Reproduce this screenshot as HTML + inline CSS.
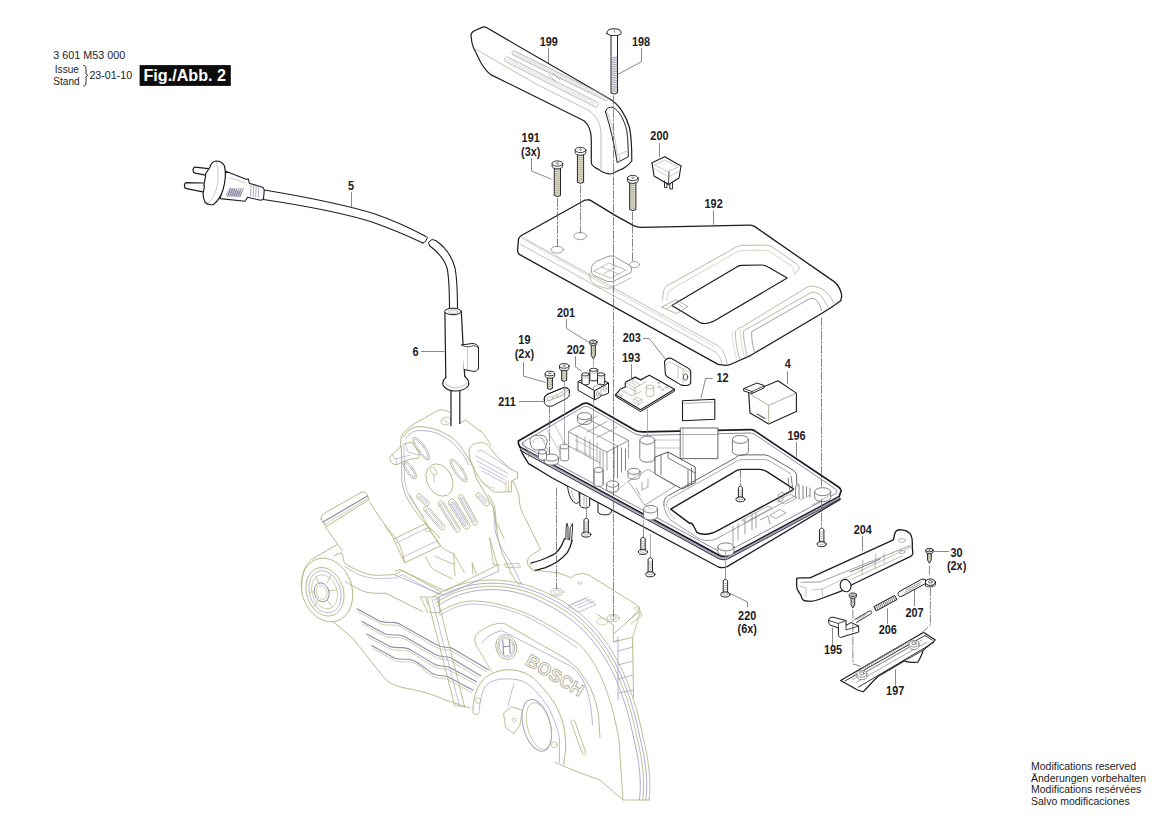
<!DOCTYPE html>
<html><head><meta charset="utf-8"><style>
html,body{margin:0;padding:0;background:#fff;}
body{width:1169px;height:826px;overflow:hidden;position:relative;font-family:"Liberation Sans",sans-serif;color:#1c1c24;}
svg{position:absolute;left:0;top:0;}
svg text{font-family:"Liberation Sans",sans-serif;fill:#1c1c24;}
.t{position:absolute;white-space:nowrap;line-height:1;}
</style></head><body>
<svg width="1169" height="826" viewBox="0 0 1169 826" stroke-linecap="round" stroke-linejoin="round">
<path d="M433.0,597 C462,578 505,572 549.0,594 C592.0,614 627,655.0 643,737 C650,765 651,785 649,800" stroke="#b6b486" stroke-width="0.8800000000000001" fill="none" />
<path d="M434.28,600.2 C462,581.2 505,575.2 547.72,597.2 C589.76,617.2 623.8,655.96 639.8,737 C646.8,765 647.8,785 645.8,800" stroke="#a2a2c4" stroke-width="0.8800000000000001" fill="none" />
<path d="M435.48,603.2 C462,584.2 505,578.2 546.52,600.2 C587.66,620.2 620.8,656.86 636.8,737 C643.8,765 644.8,785 642.8,800" stroke="#b6b486" stroke-width="0.8800000000000001" fill="none" />
<path d="M436.84,606.6 C462,587.6 505,581.6 545.16,603.6 C585.28,623.6 617.4,657.88 633.4,737 C640.4,765 641.4,785 639.4,800" stroke="#a2a2c4" stroke-width="0.8800000000000001" fill="none" />
<path d="M439.2,612 C452,604 465,600.5 474.8,601 C486,601.5 494,603 502.1,605.2 C512,608 521,611 529.5,614.7 C550,625 567,636 580,644.9 C600,665 612,700 619,740 L623,800" stroke="#b6b486" stroke-width="0.8800000000000001" fill="none" />
<path d="M440,615 C453,607 465,603.5 475,604 C486,604.5 494,606 502,608.2 C512,611 521,614 529,617.7 C549,628 565,639 577,648" stroke="#a2a2c4" stroke-width="0.66" fill="none" />
<path d="M573.9,770.6 L600,780 L623,800 L650,800" stroke="#b6b486" stroke-width="0.8800000000000001" fill="none" />
<path d="M476,645 C474,640 475,636 477.1,633.5 C484,628 492,624 499.7,623.4 C503,623.2 505,623.6 505.9,624.4 L563.6,657.4 C570,662 576,666 580,671.8 C586,680 590,686 592.4,692.4 C596,702 598,710 598.6,717 L600,737.7" stroke="#b6b486" stroke-width="0.935" fill="none" />
<path d="M482.2,643 C485,638 492,633 501.8,630.6 L569.7,665.6 C578,671 584,680 587,690 C590,700 592,712 592.5,725" stroke="#a2a2c4" stroke-width="0.77" fill="none" />
<path d="M476,645 L492,672" stroke="#b6b486" stroke-width="0.77" fill="none" />
<ellipse cx="506.3" cy="647.1" rx="10.3" ry="12.5" stroke="#b6b486" stroke-width="0.9" fill="none" transform="rotate(-18 506.3 647.1)"/>
<ellipse cx="506.3" cy="647.1" rx="8.3" ry="10.3" stroke="#a2a2c4" stroke-width="0.7" fill="none" transform="rotate(-18 506.3 647.1)"/>
<ellipse cx="506.3" cy="647.1" rx="6.8" ry="8.6" stroke="#b6b486" stroke-width="0.6" fill="none" transform="rotate(-18 506.3 647.1)"/>
<path d="M502.8,640.5 L503.5,654 M509.5,639.5 L510.2,653 M503,647 L510,646" stroke="#8e8ea6" stroke-width="1.1" fill="none" />
<text x="0" y="0" transform="translate(524.5,664) rotate(31)" font-size="17.5" font-weight="bold" style="fill:#ffffff;stroke:#aaa990;stroke-width:0.8" letter-spacing="0.2">BOSCH</text>
<path d="M473,708.8 C473.5,700 475,696 476,692.4 C478,687 479,685 481.2,682.1 C484,678 487,676 491.5,673.8 C497,671 502,670 508,669.7 C515,669.7 520,671 526.5,673.8 C533,677 538,682 543,688.3 C548,694 552,699 555.3,704.7 C559,711 561.5,718 563.6,725.3 C565,733 566,742 565.6,750 L563.6,764.4" stroke="#b6b486" stroke-width="0.9900000000000001" fill="none" />
<path d="M479.1,710.9 C480,700 482,692 485.3,686.2 C490,681 495,680 501.8,679 C510,678.5 516,679 522.4,681 C529,684 534,689 538.8,694.4 C544,701 548,706 551.2,713 C555,722 558,730 559.4,737.7 L559.4,762.4" stroke="#a2a2c4" stroke-width="0.77" fill="none" />
<path d="M473,708.8 L473,713 C475,715 478,715 479.1,713" stroke="#b6b486" stroke-width="0.8800000000000001" fill="none" />
<ellipse cx="478.1" cy="700.6" rx="2.6" ry="2.8" stroke="#b6b486" stroke-width="0.7" fill="none" transform="rotate(0 478.1 700.6)"/>
<ellipse cx="536.8" cy="725.3" rx="13.5" ry="26.5" stroke="#a2a2c4" stroke-width="1.0" fill="none" transform="rotate(-15 536.8 725.3)"/>
<ellipse cx="539" cy="726" rx="11.5" ry="24" stroke="#b6b486" stroke-width="0.7" fill="none" transform="rotate(-15 539 726)"/>
<ellipse cx="554.3" cy="744.9" rx="3" ry="3" stroke="#b6b486" stroke-width="0.7" fill="none" transform="rotate(0 554.3 744.9)"/>
<path d="M503.8,713 L511,706.8 L522.4,710 L520,725 L514,733.6 L506,728 Z" stroke="#b6b486" stroke-width="0.8800000000000001" fill="none" />
<ellipse cx="514" cy="720" rx="2" ry="2" stroke="#b6b486" stroke-width="0.6" fill="none" transform="rotate(0 514 720)"/>
<path d="M508,706 L512,690 M512,690 L514,684" stroke="#a2a2c4" stroke-width="0.66" fill="none" />
<path d="M570.8,721.2 C572,719.5 574,719.5 575,721.5 L585.2,751 C586,754.5 584,756 582.5,754 L572,725 Z" stroke="#b6b486" stroke-width="0.8800000000000001" fill="none" />
<path d="M555.3,762.4 L573.9,770.6" stroke="#b6b486" stroke-width="0.8800000000000001" fill="none" />
<path d="M558.7,572.9 L571.3,577.8 L575.2,574.9 C580,573 585,573 590.7,576.1 L635.2,603.9 C639,606 640.5,608.5 639.1,610.5 L626.2,622.8 L613.3,634.1" stroke="#b6b486" stroke-width="0.935" fill="none" />
<path d="M597,614 L613.3,625 L613.3,642 L632.6,637.3 L633.5,697" stroke="#b6b486" stroke-width="0.935" fill="none" />
<path d="M613.3,642 L618,640 M618,637 L618,700 M618,651 L633,647 M618,665 L633,661 M618,679 L633,675 M618,693 L633,690" stroke="#a2a2c4" stroke-width="0.77" fill="none" />
<path d="M632.6,637.3 C635,630 638,620 640,612" stroke="#b6b486" stroke-width="0.77" fill="none" />
<ellipse cx="556.9" cy="592.2" rx="6.5" ry="3.8" stroke="#b6b486" stroke-width="0.8" fill="none" transform="rotate(0 556.9 592.2)"/>
<ellipse cx="556.9" cy="592.2" rx="3.5" ry="2" stroke="#a2a2c4" stroke-width="0.6" fill="none" transform="rotate(0 556.9 592.2)"/>
<ellipse cx="613.3" cy="618" rx="6" ry="3.6" stroke="#b6b486" stroke-width="0.8" fill="none" transform="rotate(0 613.3 618)"/>
<ellipse cx="613.3" cy="617.5" rx="3.2" ry="2" stroke="#a2a2c4" stroke-width="0.6" fill="none" transform="rotate(0 613.3 617.5)"/>
<ellipse cx="602.5" cy="621.5" rx="5.5" ry="3.4" stroke="#b6b486" stroke-width="0.7" fill="none" transform="rotate(0 602.5 621.5)"/>
<ellipse cx="636.5" cy="608.5" rx="2.4" ry="1.6" stroke="#b6b486" stroke-width="0.6" fill="none" transform="rotate(0 636.5 608.5)"/>
<ellipse cx="579.5" cy="583" rx="2" ry="1.3" stroke="#b6b486" stroke-width="0.6" fill="none" transform="rotate(0 579.5 583)"/>
<path d="M568,606 L585,598.5 L596,604.5 L579,612 Z M572,604 L588,597 M575,606 L591,599 M578,608 L594,601" stroke="#a2a2c4" stroke-width="0.66" fill="none" />
<path d="M628,621 L640,611 L642,615 L631,624" stroke="#b6b486" stroke-width="0.77" fill="none" />
<path d="M480,430 C484,434 488,440 490.9,445.7 M512.7,480.9 C515,485 517,490 518.7,494.2 L519.9,505 C521,510 523,514 524.8,517.2 L540.7,549.5 L532.2,554.6 C528,557 526.5,561 528,565 C530,569 534,571 538,570.5 L558.7,572.9" stroke="#b6b486" stroke-width="0.935" fill="none" />
<path d="M496.9,530 C498,540 500,548 503,555 L512,575 L519,585" stroke="#b6b486" stroke-width="0.935" fill="none" />
<path d="M493.3,507.5 C494,515 495,522 494.9,529.2 C497,540 502,550 510.2,561.4 L522,585.1" stroke="#a2a2c4" stroke-width="0.77" fill="none" />
<path d="M505,564 L519,563.5 L520.5,567 L506.5,567.5 Z" stroke="#b6b486" stroke-width="0.77" fill="none" />
<path d="M400.3,447.6 C400.5,443 401,440 401.3,437 C402.5,434.5 403.5,432.5 405.2,431.2 C409,428 412,425 415.9,422.9 L437.2,410.8 C439,410 440.5,409.8 442,409.8 C445,410 447.5,411 449.8,412.3" stroke="#b6b486" stroke-width="0.935" fill="none" />
<path d="M459.5,423.4 L465.3,420 C470,423 475,427 480,431.2" stroke="#b6b486" stroke-width="0.935" fill="none" />
<ellipse cx="445.9" cy="421" rx="5" ry="3.8" stroke="#b6b486" stroke-width="0.7" fill="none" transform="rotate(-20 445.9 421)"/>
<path d="M443,419 L448,423" stroke="#a2a2c4" stroke-width="0.66" fill="none" />
<path d="M403.3,437 C405,434 407,432 409.1,430.2 C411.5,428.5 414,427.3 416.8,426.8 L422.6,426.8 C428,427.5 433,428.5 438.1,430.2 C443,432.5 448,435 452.7,438 C457,442 460.5,446 463.3,450.5 C467,456 470,461 473,467 L476.3,478.4 L493.3,507.5 L496.9,530" stroke="#b6b486" stroke-width="0.9900000000000001" fill="none" />
<path d="M405.5,438.5 C408,435 411,432.5 415,431 C420,430 426,430.5 432,431.8 C440,434 447,438 453,443 C460,450 465,457 469,465" stroke="#a2a2c4" stroke-width="0.77" fill="none" />
<path d="M401.3,447.6 L401.8,481.3 C403,490 406,496 409,501.7 C413,508 417,514 422.1,520 L440,538" stroke="#b6b486" stroke-width="0.935" fill="none" />
<path d="M404,447 L404.5,480 C405.5,488 408.5,494.5 411.5,500 C415,506 419,511.5 424,517" stroke="#a2a2c4" stroke-width="0.66" fill="none" />
<ellipse cx="421.2" cy="448.6" rx="4.2" ry="13.5" stroke="#b6b486" stroke-width="0.85" fill="none" transform="rotate(-35 421.2 448.6)"/>
<ellipse cx="421.2" cy="448.6" rx="2.6" ry="11.5" stroke="#a2a2c4" stroke-width="0.6" fill="none" transform="rotate(-35 421.2 448.6)"/>
<ellipse cx="458.6" cy="470.5" rx="4.2" ry="13.5" stroke="#b6b486" stroke-width="0.85" fill="none" transform="rotate(-35 458.6 470.5)"/>
<ellipse cx="458.6" cy="470.5" rx="2.6" ry="11.5" stroke="#a2a2c4" stroke-width="0.6" fill="none" transform="rotate(-35 458.6 470.5)"/>
<ellipse cx="409.8" cy="470" rx="3.6" ry="10.5" stroke="#b6b486" stroke-width="0.85" fill="none" transform="rotate(-35 409.8 470)"/>
<ellipse cx="409.8" cy="470" rx="2.0" ry="8.5" stroke="#a2a2c4" stroke-width="0.6" fill="none" transform="rotate(-35 409.8 470)"/>
<ellipse cx="439.5" cy="480" rx="12.5" ry="17" stroke="#b6b486" stroke-width="0.85" fill="none" transform="rotate(-28 439.5 480)"/>
<ellipse cx="433.5" cy="471" rx="2.5" ry="4.5" stroke="#b6b486" stroke-width="0.7" fill="none" transform="rotate(-30 433.5 471)"/>
<path d="M433.5,475 L434.5,482" stroke="#a2a2c4" stroke-width="0.66" fill="none" />
<path d="M424.4,510.8 L439.9,528.8 A2.75,2.75 0 0 0 444.1,525.2 L428.6,507.2 A2.75,2.75 0 0 0 424.4,510.8 Z" stroke="#b6b486" stroke-width="0.8800000000000001" fill="none" />
<path d="M426.5,511.0 L440.1,526.7 A1.25,1.25 0 0 0 442.0,525.0 L428.4,509.3 A1.25,1.25 0 0 0 426.5,511.0 Z" stroke="#a2a2c4" stroke-width="0.66" fill="none" />
<path d="M438.7,505.0 L455.2,531.0 A2.75,2.75 0 0 0 459.8,528.0 L443.3,502.0 A2.75,2.75 0 0 0 438.7,505.0 Z" stroke="#b6b486" stroke-width="0.8800000000000001" fill="none" />
<path d="M440.7,505.4 L455.6,528.9 A1.25,1.25 0 0 0 457.8,527.6 L442.9,504.1 A1.25,1.25 0 0 0 440.7,505.4 Z" stroke="#a2a2c4" stroke-width="0.66" fill="none" />
<path d="M449.0,504.4 L463.5,527.4 A3.5,3.5 0 0 0 469.5,523.6 L455.0,500.6 A3.5,3.5 0 0 0 449.0,504.4 Z" stroke="#b6b486" stroke-width="0.8800000000000001" fill="none" />
<path d="M451.1,504.8 L464.0,525.3 A2.0,2.0 0 0 0 467.4,523.2 L454.5,502.7 A2.0,2.0 0 0 0 451.1,504.8 Z" stroke="#a2a2c4" stroke-width="0.66" fill="none" />
<path d="M451.4,504.7 L454.2,502.9" stroke="#a2a2c4" stroke-width="0.55" fill="none" />
<path d="M452.2,506.0 L455.0,504.1" stroke="#a2a2c4" stroke-width="0.55" fill="none" />
<path d="M453.0,507.2 L455.9,505.4" stroke="#a2a2c4" stroke-width="0.55" fill="none" />
<path d="M453.8,508.5 L456.7,506.7" stroke="#a2a2c4" stroke-width="0.55" fill="none" />
<path d="M454.6,509.8 L457.5,508.0" stroke="#a2a2c4" stroke-width="0.55" fill="none" />
<path d="M455.4,511.1 L458.3,509.3" stroke="#a2a2c4" stroke-width="0.55" fill="none" />
<path d="M456.2,512.4 L459.1,510.5" stroke="#a2a2c4" stroke-width="0.55" fill="none" />
<path d="M457.0,513.6 L459.9,511.8" stroke="#a2a2c4" stroke-width="0.55" fill="none" />
<path d="M457.8,514.9 L460.7,513.1" stroke="#a2a2c4" stroke-width="0.55" fill="none" />
<path d="M458.6,516.2 L461.5,514.4" stroke="#a2a2c4" stroke-width="0.55" fill="none" />
<path d="M459.4,517.5 L462.3,515.6" stroke="#a2a2c4" stroke-width="0.55" fill="none" />
<path d="M460.2,518.7 L463.1,516.9" stroke="#a2a2c4" stroke-width="0.55" fill="none" />
<path d="M461.0,520.0 L463.9,518.2" stroke="#a2a2c4" stroke-width="0.55" fill="none" />
<path d="M461.8,521.3 L464.7,519.5" stroke="#a2a2c4" stroke-width="0.55" fill="none" />
<path d="M462.6,522.6 L465.5,520.8" stroke="#a2a2c4" stroke-width="0.55" fill="none" />
<path d="M463.5,523.9 L466.3,522.0" stroke="#a2a2c4" stroke-width="0.55" fill="none" />
<path d="M464.3,525.1 L467.1,523.3" stroke="#a2a2c4" stroke-width="0.55" fill="none" />
<path d="M458.8,498.2 L472.8,523.7 A2.5,2.5 0 0 0 477.2,521.3 L463.2,495.8 A2.5,2.5 0 0 0 458.8,498.2 Z" stroke="#b6b486" stroke-width="0.8800000000000001" fill="none" />
<path d="M460.8,498.8 L473.4,521.7 A1.0,1.0 0 0 0 475.2,520.7 L462.6,497.8 A1.0,1.0 0 0 0 460.8,498.8 Z" stroke="#a2a2c4" stroke-width="0.66" fill="none" />
<path d="M476.7,497.3 L484.7,505.3 A2.5,2.5 0 0 0 488.3,501.7 L480.3,493.7 A2.5,2.5 0 0 0 476.7,497.3 Z" stroke="#b6b486" stroke-width="0.8800000000000001" fill="none" />
<path d="M478.9,497.3 L484.7,503.1 A1.0,1.0 0 0 0 486.1,501.7 L480.3,495.9 A1.0,1.0 0 0 0 478.9,497.3 Z" stroke="#a2a2c4" stroke-width="0.66" fill="none" />
<path d="M417.3,497.8 L425.3,505.3 A2.5,2.5 0 0 0 428.7,501.7 L420.7,494.2 A2.5,2.5 0 0 0 417.3,497.8 Z" stroke="#b6b486" stroke-width="0.8800000000000001" fill="none" />
<path d="M419.4,497.8 L425.2,503.2 A1.0,1.0 0 0 0 426.6,501.7 L420.8,496.3 A1.0,1.0 0 0 0 419.4,497.8 Z" stroke="#a2a2c4" stroke-width="0.66" fill="none" />
<path d="M390.2,456.4 C389,458 390,462 393,464 L397,464.5 L409,459.5 L418.8,458 L419.5,452 L412,442.5 L405,443.5 L396,451 Z" stroke="#b6b486" stroke-width="0.935" fill="none" />
<path d="M392,455 L396,459 L410,455 M396,459 L397,464.5 M405,443.5 L408,452 L418.8,455" stroke="#a2a2c4" stroke-width="0.66" fill="none" />
<path d="M469.1,449.4 C471,445 473.5,443.5 476.3,443.3 C479,442.5 481.5,442.5 483.6,442.7 C485.5,443.3 487,444.3 488.4,445.7 L496.9,456.6 L510.2,468.8 L517.5,472.4 L517.5,478.4 L511.4,480.9 L511.4,491.8 L506,491.8 C500,492.5 497,492 494.5,491.8 C489,489 485,485 481.2,480.9 C477,475 473,467 470,459 Z" stroke="#b6b486" stroke-width="0.935" fill="none" />
<path d="M477.5,451.8 C479,450 481,450 483,451 L510.2,468.8 M476,456 L508,473.5 M477,461 L507,477.5 M479,466 L505,480 M482,471 L506,484" stroke="#a2a2c4" stroke-width="0.66" fill="none" />
<path d="M481.2,480.9 C487,486 490,488 494.5,488" stroke="#b6b486" stroke-width="0.66" fill="none" />
<path d="M506,480.9 L506,491.8 M508.5,481 L508.5,491.8" stroke="#b6b486" stroke-width="0.66" fill="none" />
<path d="M321.1,519.2 C321.5,516 323,514 325.5,512.5 L361,492.5 C363.5,491.5 365.5,492 366.5,493.5 L369,499.6 L326.2,526.5 L321.1,519.2 Z" stroke="#b6b486" stroke-width="0.935" fill="none" />
<path d="M323,522 L367.5,496" stroke="#8e8ea6" stroke-width="1.2100000000000002" fill="none" />
<path d="M324.5,524.5 L368.5,498.2" stroke="#b6b486" stroke-width="0.66" fill="none" />
<path d="M325.4,527 L342.4,550.8" stroke="#b6b486" stroke-width="0.935" fill="none" />
<path d="M369.5,501.7 C377,514 386,527 395,537.3 C398.5,542 400.5,546 401.7,550.8 C403,555 404,559 405,562.7" stroke="#b6b486" stroke-width="0.935" fill="none" />
<path d="M384.7,525.4 C388,530 391,535 394,539" stroke="#b6b486" stroke-width="0.8250000000000001" fill="none" />
<path d="M394,539 L425.4,523.7 L440.7,545.8 L405,562.7 Z" stroke="#b6b486" stroke-width="0.935" fill="none" />
<path d="M396.5,543 L427,528 M402,557.5 L437,541" stroke="#a2a2c4" stroke-width="0.66" fill="none" />
<ellipse cx="427.5" cy="530" rx="2.5" ry="1.8" stroke="#b6b486" stroke-width="0.6" fill="none" transform="rotate(0 427.5 530)"/>
<path d="M313.4,558.4 L336.7,544.8" stroke="#b6b486" stroke-width="0.935" fill="none" />
<path d="M333.9,555.9 L341.5,552.6 C343,557 344,560 344,562.7 C349,566 354,569 359.3,571.2 C365,573.5 370,575 376.3,575.4 L394.9,574.6 C398,573 400,571.5 401.7,570.3 L440.7,591.5" stroke="#b6b486" stroke-width="0.935" fill="none" />
<path d="M344,566 C350,570 355,573 360,575 C367,577.5 372,578.5 377,578.5 L396,578 L402,574.5 L440,595" stroke="#a2a2c4" stroke-width="0.66" fill="none" />
<path d="M345.4,581.7 C352,586 360,590 366.7,592.3 C374,593.5 380,593.5 386,593.3 L422.9,611.7" stroke="#b6b486" stroke-width="0.935" fill="none" />
<path d="M332.8,621.4 C340,628 347,633 353.1,638.8 C362,650 370,660 376.4,667.9 C380,673 384,678 388,681.5 C395,686 403,688 411.3,689.2 C425,692 437,696 445,700 L470,708" stroke="#b6b486" stroke-width="0.935" fill="none" />
<path d="M357,608.8 L380.3,621.4 C385.0,622.8 389.0,622.4 393.8,622.4 C397.0,622.8 401.0,624.4 403.5,626.1999999999999 L436.0,644.4 C439.0,645.9 442.4,647.0 444.4,647.0 C446.9,647.0 449.2,647.8 451.2,647.8 L488.5,669.8" stroke="#8e8ea6" stroke-width="1.1" fill="none" />
<path d="M358,611.8 L380.8,624.0 C385.5,625.4 389.5,625.0 394.3,625.0 C397.5,625.4 401.5,626.9999999999999 404.0,628.8 L436.0,647.1999999999999 C439.0,648.6999999999999 442.4,649.8 444.4,649.8 C446.9,649.8 449.2,650.5999999999999 451.2,650.5999999999999 L487.0,672.0" stroke="#b6b486" stroke-width="0.66" fill="none" />
<path d="M361.9,621.4 L385.2,634.0 C389.9,635.4 393.9,635.0 398.7,635.0 C401.9,635.4 405.9,637.0 408.4,638.8 L434.5,653.9 C437.5,655.4 440.9,656.5 442.9,656.5 C445.4,656.5 447.7,657.3 449.7,657.3 L480.8,675.8" stroke="#8e8ea6" stroke-width="1.1" fill="none" />
<path d="M362.9,624.4 L385.7,636.6 C390.4,638.0 394.4,637.6 399.2,637.6 C402.4,638.0 406.4,639.5999999999999 408.9,641.4 L434.5,656.6999999999999 C437.5,658.1999999999999 440.9,659.3 442.9,659.3 C445.4,659.3 447.7,660.0999999999999 449.7,660.0999999999999 L479.3,678.0" stroke="#b6b486" stroke-width="0.66" fill="none" />
<path d="M366.7,634 L390.0,646.6 C394.7,648.0 398.7,647.6 403.5,647.6 C406.7,648.0 410.7,649.6 413.2,651.4 L433.0,663.4 C436.0,664.9 439.4,666.0 441.4,666.0 C443.9,666.0 446.2,666.8 448.2,666.8 L476.6,681.7" stroke="#8e8ea6" stroke-width="1.1" fill="none" />
<path d="M367.7,637 L390.5,649.2 C395.2,650.6 399.2,650.2 404.0,650.2 C407.2,650.6 411.2,652.1999999999999 413.7,654.0 L433.0,666.1999999999999 C436.0,667.6999999999999 439.4,668.8 441.4,668.8 C443.9,668.8 446.2,669.5999999999999 448.2,669.5999999999999 L475.1,683.9000000000001" stroke="#b6b486" stroke-width="0.66" fill="none" />
<path d="M371.6,645.6 L394.90000000000003,658.2 C399.6,659.6 403.6,659.2 408.40000000000003,659.2 C411.6,659.6 415.6,661.2 418.1,663.0 L431.5,672.9 C434.5,674.4 437.9,675.5 439.9,675.5 C442.4,675.5 444.7,676.3 446.7,676.3 L473.2,690.2" stroke="#8e8ea6" stroke-width="1.1" fill="none" />
<path d="M372.6,648.6 L395.40000000000003,660.8000000000001 C400.1,662.2 404.1,661.8000000000001 408.90000000000003,661.8000000000001 C412.1,662.2 416.1,663.8 418.6,665.6 L431.5,675.6999999999999 C434.5,677.1999999999999 437.9,678.3 439.9,678.3 C442.4,678.3 444.7,679.0999999999999 446.7,679.0999999999999 L471.7,692.4000000000001" stroke="#b6b486" stroke-width="0.66" fill="none" />
<path d="M420.7,597 L439.3,597 L439.3,613 M420.7,597 L427.5,612.2 L439.3,613" stroke="#b6b486" stroke-width="0.8250000000000001" fill="none" />
<path d="M427.5,598.6 L454.6,705.4 M437.6,598.6 L464.7,707.1" stroke="#b6b486" stroke-width="0.8800000000000001" fill="none" />
<path d="M432,599 L459.5,706" stroke="#a2a2c4" stroke-width="0.66" fill="none" />
<path d="M454.6,705.4 L464.7,707.1" stroke="#b6b486" stroke-width="0.77" fill="none" />
<ellipse cx="327" cy="590" rx="25" ry="32.5" stroke="#b6b486" stroke-width="0.9" fill="none" transform="rotate(-18 327 590)"/>
<path d="M313.4,558.4 C305,562 301,575 301.8,590" stroke="#b6b486" stroke-width="0.77" fill="none" />
<ellipse cx="325" cy="591.8" rx="18.4" ry="24.8" stroke="#b6b486" stroke-width="0.85" fill="none" transform="rotate(-18 325 591.8)"/>
<ellipse cx="325" cy="591.8" rx="15.5" ry="21.5" stroke="#a2a2c4" stroke-width="0.7" fill="none" transform="rotate(-18 325 591.8)"/>
<ellipse cx="324.5" cy="591.8" rx="12.5" ry="17.5" stroke="#b6b486" stroke-width="0.6" fill="none" transform="rotate(-18 324.5 591.8)"/>
<ellipse cx="321.7" cy="592.3" rx="7.3" ry="9.7" stroke="#8e8ea6" stroke-width="0.9" fill="none" transform="rotate(-18 321.7 592.3)"/>
<ellipse cx="321.7" cy="592.3" rx="5.2" ry="7.2" stroke="#b6b486" stroke-width="0.6" fill="none" transform="rotate(-18 321.7 592.3)"/>
<path d="M316,576 L318.5,583 M331,575 L327,583 M314,607 L318,600.5 M332,607 L327.5,600.5 M309.5,592 L314.5,592 M336.5,590 L329,591" stroke="#b6b486" stroke-width="0.77" fill="none" />
<path d="M427,524.3 C431,532 435,538 439,544.3 C442,548 446,551 453.6,553.6" stroke="#b6b486" stroke-width="0.8800000000000001" fill="none" />
<path d="M425.6,556.3 C428,562 430,566 433.6,569.6 L452.3,578.9 M435,556.3 L453.6,564.3" stroke="#b6b486" stroke-width="0.8250000000000001" fill="none" />
<path d="M453.6,553.6 L455,576.2 M453.6,553.6 L464.3,572.2" stroke="#b6b486" stroke-width="0.8250000000000001" fill="none" />
<path d="M472.2,562.9 L473,574 M472.2,562.9 L476.2,573.6" stroke="#b6b486" stroke-width="0.8250000000000001" fill="none" />
<path d="M489.6,537.6 L493.5,564.3 M489.6,537.6 L498.9,570.9 M493.5,564.3 L498.9,566" stroke="#b6b486" stroke-width="0.8250000000000001" fill="none" />
<path d="M395,570.9 L400.3,569.6 L439,588.2 L445.6,590.9 L498.9,564.3" stroke="#b6b486" stroke-width="0.8800000000000001" fill="none" />
<path d="M395,574.9 L439,593.5 L445.6,595 L499,571" stroke="#a2a2c4" stroke-width="0.77" fill="none" />
<path d="M425.6,597.5 L428,605 M439,597.5 L439,605" stroke="#b6b486" stroke-width="0.77" fill="none" />
<path d="M488.2,495 C491,499 493.5,503 494.9,508.3 L496.2,521.6 L504.2,539" stroke="#b6b486" stroke-width="0.8800000000000001" fill="none" />
<path d="M409.6,495 L427,524.3" stroke="#b6b486" stroke-width="0.8800000000000001" fill="none" />
<path d="M208.2,168.7 L195.5,167.2 C192.5,167 192.3,172.6 195,173.2 L205.7,175.1" stroke="#1c1c24" stroke-width="1.2" fill="#fff" />
<path d="M203.1,183.0 L186.8,182.6 C183.6,182.6 183.8,188.4 186.5,188.7 L204,192.2" stroke="#1c1c24" stroke-width="1.2" fill="#fff" />
<path d="M225.8,171.3 L246.7,179.4 L248.4,179 L249.3,183.2 L263,187.5 L264.3,190 L263.4,199.5 L260.4,200.3 L247.6,197.3 L245,201.2 L220.2,198.6 Z" stroke="#1c1c24" stroke-width="1.1" fill="#fff" />
<path d="M225.3,195.2 L229.6,187.5 L241.6,191.4 L239.9,196.9 Z" stroke="none" stroke-width="0" fill="#c4c4d4" />
<line x1="227.5" y1="196.5" x2="230.7" y2="188.5" stroke="#7c7c98" stroke-width="0.9" />
<line x1="229.6" y1="196.5" x2="232.8" y2="188.5" stroke="#7c7c98" stroke-width="0.9" />
<line x1="231.7" y1="196.5" x2="234.9" y2="188.5" stroke="#7c7c98" stroke-width="0.9" />
<line x1="233.8" y1="196.5" x2="237.0" y2="188.5" stroke="#7c7c98" stroke-width="0.9" />
<line x1="235.9" y1="196.5" x2="239.1" y2="188.5" stroke="#7c7c98" stroke-width="0.9" />
<line x1="238.0" y1="196.5" x2="241.2" y2="188.5" stroke="#7c7c98" stroke-width="0.9" />
<line x1="240.1" y1="196.5" x2="243.3" y2="188.5" stroke="#7c7c98" stroke-width="0.9" />
<line x1="251.0" y1="184.5" x2="250.5" y2="196.0" stroke="#8888a0" stroke-width="0.7" />
<line x1="253.6" y1="185.1" x2="253.1" y2="196.3" stroke="#8888a0" stroke-width="0.7" />
<line x1="256.2" y1="185.7" x2="255.7" y2="196.6" stroke="#8888a0" stroke-width="0.7" />
<line x1="258.8" y1="186.3" x2="258.3" y2="196.9" stroke="#8888a0" stroke-width="0.7" />
<line x1="230" y1="178" x2="246" y2="183" stroke="#a8a890" stroke-width="0.6" />
<path d="M210,167 C211,163 213,161.5 216,161 C219,161 222.5,162 224.5,166 C226,172 225.5,181 223,190 C221,196 218,201 213.4,204.6 C210,205 206.5,204 205.2,202.5 C203.5,199 203,196 203.1,193.5 L204.5,186 L203.8,185.6 L205.7,175.5 L205.5,174 Z" stroke="#1c1c24" stroke-width="1.2" fill="#fff" />
<path d="M216,162 C218.5,168 219.5,178 216,190 C214,197 211,201 208,203" stroke="#a8a890" stroke-width="0.6" fill="none" />
<path d="M264.3,190 C300,196 340,203 375,214 C395,221 412,229 425,236" stroke="#1c1c24" stroke-width="1.1" fill="none" />
<path d="M263.4,199.5 C300,205 340,212 372,222 C392,229 408,236 423,243" stroke="#1c1c24" stroke-width="1.1" fill="none" />
<path d="M425,236 L427.5,237.5 L425.5,241.5 L423,243" stroke="#1c1c24" stroke-width="1.0" fill="none" />
<path d="M429.6,245.7 C438,252 444,258 447,268 C449.5,278 449.5,295 449.5,312" stroke="#1c1c24" stroke-width="1.1" fill="none" />
<path d="M435.7,240.5 C445,247 452,256 455,268 C457.5,280 457.5,298 457.5,312" stroke="#1c1c24" stroke-width="1.1" fill="none" />
<path d="M429.6,245.7 L428.5,242.5 L432,239.5 L435.7,240.5" stroke="#1c1c24" stroke-width="1.0" fill="none" />
<text transform="translate(351,189.5) scale(0.88,1)" text-anchor="middle" font-size="12.4" font-weight="bold">5</text>
<line x1="351.5" y1="192.5" x2="351.5" y2="206.5" stroke="#6a6a70" stroke-width="0.8" />
<path d="M531,563 C535,562 538,561 541.2,560 C546,558 551,556 555.6,553.2 C558,551 560,548.5 561.5,545.6 C562.5,543.5 563.5,541 564.5,538.8" stroke="#1c1c24" stroke-width="1.3" fill="none" />
<path d="M534.8,570.6 C538,569.5 542,568.5 545.4,567.6 C549.5,566 553.5,564 557.3,561.7 C561,559 564.5,556 567.5,552.4 C569.5,549 571,545 572.1,540.5" stroke="#1c1c24" stroke-width="1.3" fill="none" />
<path d="M564.5,538.8 C567,538.2 570,539 572.1,540.5" stroke="#1c1c24" stroke-width="0.8" fill="none" />
<path d="M565.8,539 L566.2,527 L567,523.1 L568,527 L568,539.5" stroke="#1c1c24" stroke-width="0.9" fill="#fff" />
<path d="M569.6,540 L570.3,527.5 L572.5,523.6 L572.6,528 L571.6,540.3" stroke="#1c1c24" stroke-width="0.9" fill="#fff" />
<path d="M531,563 C529,566 530,569 534.8,570.6" stroke="#b6b486" stroke-width="0.8" fill="none" />
<path d="M444.9,312 L445.8,378 L464.7,376.6 L461.3,311 Z" stroke="none" stroke-width="0" fill="#fff" />
<path d="M444.9,312 L445.8,377.5 M464.7,376.6 L461.3,311" stroke="#1c1c24" stroke-width="1.2" fill="none" />
<ellipse cx="453" cy="311.5" rx="8.3" ry="3.3" stroke="#1c1c24" stroke-width="1.0" fill="#fff" transform="rotate(0 453 311.5)"/>
<ellipse cx="453" cy="311.8" rx="4.6" ry="1.8" stroke="#888" stroke-width="0.6" fill="none" transform="rotate(0 453 311.8)"/>
<path d="M461.5,345 L472,343.5 C476,343.5 478,345 478.5,348 L478.5,368 C478,371 475,372 471.5,371 L464,369.5" stroke="#1c1c24" stroke-width="1.0" fill="#fff" />
<path d="M461.5,345 C464,347 470,347.5 472,346 C474.5,345 476.5,346.5 478.5,348" stroke="#1c1c24" stroke-width="0.8" fill="none" />
<line x1="467.5" y1="348" x2="467.5" y2="369" stroke="#a8a890" stroke-width="0.6" />
<path d="M445.8,377.5 C443,380 442.5,383 443,385 C445,389 450,391 455.3,391 C461,391 466,389 468.5,385.5 C469.5,382 468,379 464.7,376.6 Z" stroke="none" stroke-width="0" fill="#fff" />
<path d="M445.8,377.5 C443,380 442.5,383 443,385 C445,389 450,391 455.3,391 C461,391 466,389 468.5,385.5 C469.5,382 468,379 464.7,376.6" stroke="#1c1c24" stroke-width="1.2" fill="none" />
<path d="M445,383.2 C448,386.5 452,388 455.3,388 C459,388 463.5,386.5 466.8,383.2" stroke="#a8a890" stroke-width="0.7" fill="none" />
<path d="M451,391 L451,425.8" stroke="#1c1c24" stroke-width="1.2" fill="none" />
<path d="M459.8,391 L459.8,423.4" stroke="#1c1c24" stroke-width="1.2" fill="none" />
<text transform="translate(415.5,355.5) scale(0.88,1)" text-anchor="middle" font-size="12.4" font-weight="bold">6</text>
<line x1="421.6" y1="351.5" x2="444" y2="351.5" stroke="#6a6a70" stroke-width="0.8" />
<path d="M839.2,496.5 L840.1,499.4 L727.2,566.6 C724,568 721,568 718,566.8 L552.4,478 L528.6,463.6 C524,457 521,451 520,447 L718.7,555.1 C722,556.8 725,557 728.4,555.7 Z" stroke="#1c1c24" stroke-width="1.3" fill="#fff" />
<path d="M567.6,486.5 C568,492 570,498 573.5,502 C576,504 578.5,503.5 579.5,501 L579,492.5" stroke="#1c1c24" stroke-width="1.0" fill="#fff" />
<path d="M571,490 C572,495 574,499 576,500.5" stroke="#888" stroke-width="0.6" fill="none" />
<path d="M579.8,493.5 L579.8,505 C580,508.5 589.5,509.5 589.7,505 L589.7,498" stroke="#1c1c24" stroke-width="1.0" fill="#fff" />
<path d="M584,496 L584,506" stroke="#868686" stroke-width="0.6" fill="none" />
<path d="M598,503.5 L598,512 C598.5,515.5 611,516 611.3,512 L611.3,510.5" stroke="#1c1c24" stroke-width="1.0" fill="#fff" />
<path d="M518.3,441 L582.9,403.7 C585,402.8 587.5,403 589.7,404.2 L635.4,430.5 C638,431.7 641,432 643.9,431.9 L751,429.7 C753,429.7 754.5,430.3 755.9,431.6 L838.2,486.8 C840.5,488.5 841.3,489.5 841.1,490.7 L839.2,496.5 L728.4,555.7 C725,557 722,556.8 718.7,555.1 L520,447 C518.5,445 518.2,443 518.3,441 Z" stroke="#1c1c24" stroke-width="1.7" fill="#fff" />
<path d="M522.5,442.5 L583,407 C585.5,406 587.5,406.3 589.5,407.5 L634.5,433.5 C637.5,435 640.5,435.5 644,435.3 L750,433 C752,433 753.5,433.5 755,434.5 L835.5,489 C837,490.5 837,492 836,493.5 L727.5,551.5 C724.5,553 722,553 719.5,551.5 L523,445.5 Z" stroke="#7c7c92" stroke-width="0.9" fill="none" />
<path d="M520.5,450.5 L718.5,558.5 C722,560 725,560 728,558.8 L839.5,499" stroke="#3a3a4c" stroke-width="1.1" fill="none" />
<path d="M521,448.7 L718.6,556.8 C722,558.3 725,558.3 728.2,557.2 L839.3,497.7" stroke="#9a9ab0" stroke-width="1.4" fill="none" />
<path d="M530.3,443 C529.5,439 531,436.5 534,435.6 L541,435.2 C544.5,435.5 547,438 547.3,441 L545,449.2 L535.5,450 C532.5,449 530.8,446.5 530.3,443 Z" stroke="#777" stroke-width="0.9" fill="none" />
<path d="M533,443 C533,440 535,438.5 537,438.3 L541,438.2 C543,438.5 544.5,440 544.5,442" stroke="#9a9a9a" stroke-width="0.6" fill="none" />
<path d="M522.7,442.4 L528.6,451.7 L552,464 M528.6,451.7 L528.6,457" stroke="#868686" stroke-width="0.7" fill="none" />
<path d="M547,430 L560,452 M555,425 L565,445 M540,435 L552,458" stroke="#9a9a9a" stroke-width="0.6" fill="none" />
<path d="M544.5,457.6 L544.5,461.6 A7,3.5 0 0 0 558.5,461.6 L558.5,457.6" stroke="#5e5e66" stroke-width="0.8" fill="#fff" />
<ellipse cx="551.5" cy="457.6" rx="7" ry="3.5" stroke="#5e5e66" stroke-width="0.8" fill="#fff" transform="rotate(0 551.5 457.6)"/>
<path d="M538.5,452 L538.5,458 A4,2.2 0 0 0 546.5,458 L546.5,452" stroke="#5e5e66" stroke-width="0.8" fill="#fff" />
<ellipse cx="542.5" cy="452" rx="4" ry="2.2" stroke="#5e5e66" stroke-width="0.8" fill="#fff" transform="rotate(0 542.5 452)"/>
<path d="M560.1,446.5 L560.1,458.5 A4.3,2.4 0 0 0 568.6999999999999,458.5 L568.6999999999999,446.5" stroke="#5e5e66" stroke-width="0.8" fill="#fff" />
<ellipse cx="564.4" cy="446.5" rx="4.3" ry="2.4" stroke="#5e5e66" stroke-width="0.8" fill="#fff" transform="rotate(0 564.4 446.5)"/>
<path d="M577.6,416.1 L577.6,421.1 A7,3.5 0 0 0 591.6,421.1 L591.6,416.1" stroke="#5e5e66" stroke-width="0.8" fill="#fff" />
<ellipse cx="584.6" cy="416.1" rx="7" ry="3.5" stroke="#5e5e66" stroke-width="0.8" fill="#fff" transform="rotate(0 584.6 416.1)"/>
<path d="M639.8,440.2 L639.8,458.2 A7.5,4 0 0 0 654.8,458.2 L654.8,440.2" stroke="#5e5e66" stroke-width="0.8" fill="#fff" />
<ellipse cx="647.3" cy="440.2" rx="7.5" ry="4" stroke="#5e5e66" stroke-width="0.8" fill="#fff" transform="rotate(0 647.3 440.2)"/>
<path d="M606.6,484 L606.6,489 A6,3.2 0 0 0 618.6,489 L618.6,484" stroke="#5e5e66" stroke-width="0.8" fill="#fff" />
<ellipse cx="612.6" cy="484" rx="6" ry="3.2" stroke="#5e5e66" stroke-width="0.8" fill="#fff" transform="rotate(0 612.6 484)"/>
<path d="M628,471.3 L628,476.3 A6,3 0 0 0 640,476.3 L640,471.3" stroke="#5e5e66" stroke-width="0.8" fill="#fff" />
<ellipse cx="634" cy="471.3" rx="6" ry="3" stroke="#5e5e66" stroke-width="0.8" fill="#fff" transform="rotate(0 634 471.3)"/>
<path d="M643.6,509.2 L643.6,516.2 A7,3.8 0 0 0 657.6,516.2 L657.6,509.2" stroke="#5e5e66" stroke-width="0.8" fill="#fff" />
<ellipse cx="650.6" cy="509.2" rx="7" ry="3.8" stroke="#5e5e66" stroke-width="0.8" fill="#fff" transform="rotate(0 650.6 509.2)"/>
<path d="M732.4,439.4 L732.4,451.4 A8,4 0 0 0 748.4,451.4 L748.4,439.4" stroke="#5e5e66" stroke-width="0.8" fill="#fff" />
<ellipse cx="740.4" cy="439.4" rx="8" ry="4" stroke="#5e5e66" stroke-width="0.8" fill="#fff" transform="rotate(0 740.4 439.4)"/>
<path d="M814.7,491.7 L814.7,497.7 A8,4 0 0 0 830.7,497.7 L830.7,491.7" stroke="#5e5e66" stroke-width="0.8" fill="#fff" />
<ellipse cx="822.7" cy="491.7" rx="8" ry="4" stroke="#5e5e66" stroke-width="0.8" fill="#fff" transform="rotate(0 822.7 491.7)"/>
<path d="M717.9,546.9 L717.9,551.9 A8,4 0 0 0 733.9,551.9 L733.9,546.9" stroke="#5e5e66" stroke-width="0.8" fill="#fff" />
<ellipse cx="725.9" cy="546.9" rx="8" ry="4" stroke="#5e5e66" stroke-width="0.8" fill="#fff" transform="rotate(0 725.9 546.9)"/>
<path d="M594.0,470 L594.0,484 A4.5,2.4 0 0 0 603.0,484 L603.0,470" stroke="#5e5e66" stroke-width="0.8" fill="#fff" />
<ellipse cx="598.5" cy="470" rx="4.5" ry="2.4" stroke="#5e5e66" stroke-width="0.8" fill="#fff" transform="rotate(0 598.5 470)"/>
<path d="M568.5,431.4 L590,420 L628.6,440.5 L607,452 Z" stroke="#7a7a7a" stroke-width="0.8" fill="none" />
<path d="M579,425.7 L617.5,446.2 M597,416 L585,422.5 M607,421.5 L587,432 M617,427 L597,437.5" stroke="#868686" stroke-width="0.7" fill="none" />
<path d="M568.5,431.4 L568.5,446 L600,463 M607,452 L607,470 M628.6,440.5 L628.6,458" stroke="#888" stroke-width="0.8" fill="none" />
<path d="M585,437 L585,455 M597,443 L597,461 M590,440 L590,458 M577,435 L577,451" stroke="#868686" stroke-width="0.7" fill="none" />
<path d="M575,440 L595,450 M575,448 L595,458" stroke="#9a9a9a" stroke-width="0.6" fill="none" />
<path d="M614,446.6 L614,477 M617.5,446 L617.5,478 M621.5,448 L621.5,472 M625.5,449 L625.5,470" stroke="#666" stroke-width="0.8" fill="none" />
<path d="M600,450 L600,467 M603,451 L603,468" stroke="#777" stroke-width="0.7" fill="none" />
<path d="M594,469.3 L594,485.3 M603.3,470 L603.3,484" stroke="#777" stroke-width="0.7" fill="none" />
<path d="M680.6,428 L717.9,428 L717.9,458.6 L680.6,458.6 Z" stroke="#55555e" stroke-width="0.9" fill="#fff" />
<path d="M680.6,434.5 L717.9,434.5 M683,428 L683,458.6" stroke="#868686" stroke-width="0.7" fill="none" />
<path d="M655,448 L680.6,448 M656,440 L680.6,440" stroke="#9a9a9a" stroke-width="0.6" fill="none" />
<path d="M655.3,457 L668,452 L695.2,467 L695.2,482.6 L682,489 L655.3,474 Z" stroke="#3c3c46" stroke-width="0.9" fill="#fff" />
<path d="M668,452 L668,458 L695.2,473 M661,455 L661,475 M688,470 L688,486 M691.5,468 L691.5,484" stroke="#55555e" stroke-width="0.8" fill="none" />
<path d="M628.6,481 L648,469.3 L675.2,486 L645,505 Z" stroke="#868686" stroke-width="0.7" fill="none" />
<path d="M642,482 L642,490 L648,487 L648,479 M636,488 L640,495" stroke="#888" stroke-width="0.7" fill="none" />
<path d="M620,488 L628.6,481 M645,505 L650.6,509" stroke="#9a9a9a" stroke-width="0.6" fill="none" />
<path d="M663.9,505.2 C663.5,500 665.5,497 668.7,495.5 L735.5,457.8 C737.5,456 739.5,455 741.3,454.9 L764.6,454.9 C767.5,455 770,456.5 772.3,457.8 L793.6,470.4 C796,472 797,475 796.5,478 L797,486" stroke="#666" stroke-width="1.0" fill="none" />
<path d="M666.5,506 C666.5,502 668,499.5 671,498 L737,461 C739,460 741,459.5 743,459.5 L764,459.5 C766.5,459.6 768.5,460.5 770.5,461.5 L791,474" stroke="#868686" stroke-width="0.7" fill="none" />
<path d="M663.9,505.2 C665,512 667,517 672,521 L698,538 C704,541 710,541.5 716,539 L795,496" stroke="#888" stroke-width="0.8" fill="none" />
<path d="M668,507 C669,513 671,516 675,519" stroke="#9a9a9a" stroke-width="0.6" fill="none" />
<path d="M670.7,509.1 L733.6,472.3 C736,470.5 738.5,469.5 741.3,469.4 L758.8,469.4 C761.5,469.4 764,470 766.5,471.3 L793.6,488.8 L791.7,490.7 L718.1,530.4 C713.5,533 709,534.5 704.5,534.3 C700.5,534 698,533 696.8,532.3 L693.9,526.5 C692.5,523.5 690.5,522 690,523.6 L670.7,509.1 Z" stroke="#1c1c24" stroke-width="1.4" fill="#fff" />
<path d="M795.6,486 L795.6,497 M799,484 L799,499 M803,486 L803,498 M806.5,487 L806.5,496 M810,488 L810,497 M788,478 L790,492 M791,476 L793,490" stroke="#666" stroke-width="0.8" fill="none" />
<path d="M779,494 L783,492 L783,500 L779,502 Z" stroke="#888" stroke-width="0.7" fill="none" />
<path d="M770,515 L780,509.5 L786,513 L776,518.5 Z M778,500 L790,494 L797,498 L785,504 Z" stroke="#888" stroke-width="0.7" fill="none" />
<path d="M752,515 L752,530 M756,513 L756,528 M745,519 L745,534 M733,526 L733,544 M738,524 L738,540 M760,520 L768,516 L770,524" stroke="#777" stroke-width="0.7" fill="none" />
<path d="M742,520 L768,506 L772,508 L746,522 Z" stroke="#888" stroke-width="0.7" fill="none" />
<path d="M800,500 L810,495 M812,505 L830,495" stroke="#868686" stroke-width="0.6" fill="none" />
<path d="M738.4,497.9 L738.4,487.9 Q740.4,484.4 742.4,487.9 L742.4,497.9" stroke="#1c1c24" stroke-width="1" fill="#fff"/>
<line x1="738.9" y1="490.9" x2="741.9" y2="489.9" stroke="#8a8a7a" stroke-width="0.6" />
<line x1="738.9" y1="492.9" x2="741.9" y2="491.9" stroke="#8a8a7a" stroke-width="0.6" />
<line x1="738.9" y1="494.9" x2="741.9" y2="493.9" stroke="#8a8a7a" stroke-width="0.6" />
<line x1="738.9" y1="496.9" x2="741.9" y2="495.9" stroke="#8a8a7a" stroke-width="0.6" />
<ellipse cx="740.4" cy="499.4" rx="4.5" ry="2.4" stroke="#1c1c24" stroke-width="1.0" fill="#fff" transform="rotate(0 740.4 499.4)"/>
<ellipse cx="740.4" cy="498.7" rx="2.6" ry="1.2" stroke="#8a8a7a" stroke-width="0.6" fill="none" transform="rotate(0 740.4 498.7)"/>
<text transform="translate(796.5,439.7) scale(0.88,1)" text-anchor="middle" font-size="12.4" font-weight="bold">196</text>
<line x1="796.5" y1="442.5" x2="796.5" y2="456.8" stroke="#6a6a70" stroke-width="0.8" />
<path d="M471,35.3 C471,33.3 472.2,32 474,31 L482,27.4 C484,26.7 485.5,26.9 486.4,27.6 L609,98.5 C619,104 626.5,116 629.5,128 C631.5,137 631.8,148 631.8,161 C628,166 622,169.5 619.5,170 C614,173 611,174.5 609.2,173.9 C604,173 601,171.5 599,169.6 C594,167.5 591.5,165 591.3,162.8 L591.3,140 C591.3,132 589,125 584,120.8 L490.7,74.6 C487,72 484.5,69 480.4,61.8 L473.6,48.1 C472,44 471.2,40 471,35.3 Z" stroke="#1c1c24" stroke-width="1.2" fill="#fff" />
<path d="M475.3,49 L537.7,84.9 L588,110" stroke="#a8a890" stroke-width="0.7" fill="none" />
<path d="M588,110 C596,115 600,122 601,132 L601,171" stroke="#a8a890" stroke-width="0.7" fill="none" />
<path d="M513.1,54.9 L605.1,100.4 A2.1,2.1 0 0 0 606.9,96.6 L514.9,51.1 A2.1,2.1 0 0 0 513.1,54.9 Z" stroke="#9a9a8a" stroke-width="0.7" fill="none" />
<line x1="514.9" y1="54.9" x2="516.0" y2="52.5" stroke="#b4b4c4" stroke-width="0.5" />
<line x1="516.3" y1="55.6" x2="517.5" y2="53.3" stroke="#b4b4c4" stroke-width="0.5" />
<line x1="517.7" y1="56.3" x2="518.9" y2="54.0" stroke="#b4b4c4" stroke-width="0.5" />
<line x1="519.2" y1="57.0" x2="520.3" y2="54.7" stroke="#b4b4c4" stroke-width="0.5" />
<line x1="520.6" y1="57.7" x2="521.8" y2="55.4" stroke="#b4b4c4" stroke-width="0.5" />
<line x1="522.0" y1="58.4" x2="523.2" y2="56.1" stroke="#b4b4c4" stroke-width="0.5" />
<line x1="523.5" y1="59.1" x2="524.6" y2="56.8" stroke="#b4b4c4" stroke-width="0.5" />
<line x1="524.9" y1="59.9" x2="526.1" y2="57.5" stroke="#b4b4c4" stroke-width="0.5" />
<line x1="526.4" y1="60.6" x2="527.5" y2="58.2" stroke="#b4b4c4" stroke-width="0.5" />
<line x1="527.8" y1="61.3" x2="529.0" y2="58.9" stroke="#b4b4c4" stroke-width="0.5" />
<line x1="529.2" y1="62.0" x2="530.4" y2="59.7" stroke="#b4b4c4" stroke-width="0.5" />
<line x1="530.7" y1="62.7" x2="531.8" y2="60.4" stroke="#b4b4c4" stroke-width="0.5" />
<line x1="532.1" y1="63.4" x2="533.3" y2="61.1" stroke="#b4b4c4" stroke-width="0.5" />
<line x1="533.5" y1="64.1" x2="534.7" y2="61.8" stroke="#b4b4c4" stroke-width="0.5" />
<line x1="535.0" y1="64.8" x2="536.1" y2="62.5" stroke="#b4b4c4" stroke-width="0.5" />
<line x1="536.4" y1="65.5" x2="537.6" y2="63.2" stroke="#b4b4c4" stroke-width="0.5" />
<line x1="537.9" y1="66.3" x2="539.0" y2="63.9" stroke="#b4b4c4" stroke-width="0.5" />
<line x1="539.3" y1="67.0" x2="540.5" y2="64.6" stroke="#b4b4c4" stroke-width="0.5" />
<line x1="540.7" y1="67.7" x2="541.9" y2="65.3" stroke="#b4b4c4" stroke-width="0.5" />
<line x1="542.2" y1="68.4" x2="543.3" y2="66.1" stroke="#b4b4c4" stroke-width="0.5" />
<line x1="543.6" y1="69.1" x2="544.8" y2="66.8" stroke="#b4b4c4" stroke-width="0.5" />
<line x1="545.0" y1="69.8" x2="546.2" y2="67.5" stroke="#b4b4c4" stroke-width="0.5" />
<line x1="546.5" y1="70.5" x2="547.6" y2="68.2" stroke="#b4b4c4" stroke-width="0.5" />
<line x1="547.9" y1="71.2" x2="549.1" y2="68.9" stroke="#b4b4c4" stroke-width="0.5" />
<line x1="549.4" y1="71.9" x2="550.5" y2="69.6" stroke="#b4b4c4" stroke-width="0.5" />
<line x1="550.8" y1="72.6" x2="552.0" y2="70.3" stroke="#b4b4c4" stroke-width="0.5" />
<line x1="552.2" y1="73.4" x2="553.4" y2="71.0" stroke="#b4b4c4" stroke-width="0.5" />
<line x1="553.7" y1="74.1" x2="554.8" y2="71.7" stroke="#b4b4c4" stroke-width="0.5" />
<line x1="555.1" y1="74.8" x2="556.3" y2="72.5" stroke="#b4b4c4" stroke-width="0.5" />
<line x1="556.5" y1="75.5" x2="557.7" y2="73.2" stroke="#b4b4c4" stroke-width="0.5" />
<line x1="558.0" y1="76.2" x2="559.1" y2="73.9" stroke="#b4b4c4" stroke-width="0.5" />
<line x1="559.4" y1="76.9" x2="560.6" y2="74.6" stroke="#b4b4c4" stroke-width="0.5" />
<line x1="560.9" y1="77.6" x2="562.0" y2="75.3" stroke="#b4b4c4" stroke-width="0.5" />
<line x1="562.3" y1="78.3" x2="563.5" y2="76.0" stroke="#b4b4c4" stroke-width="0.5" />
<line x1="563.7" y1="79.0" x2="564.9" y2="76.7" stroke="#b4b4c4" stroke-width="0.5" />
<line x1="565.2" y1="79.8" x2="566.3" y2="77.4" stroke="#b4b4c4" stroke-width="0.5" />
<line x1="566.6" y1="80.5" x2="567.8" y2="78.1" stroke="#b4b4c4" stroke-width="0.5" />
<line x1="568.0" y1="81.2" x2="569.2" y2="78.9" stroke="#b4b4c4" stroke-width="0.5" />
<line x1="569.5" y1="81.9" x2="570.6" y2="79.6" stroke="#b4b4c4" stroke-width="0.5" />
<line x1="570.9" y1="82.6" x2="572.1" y2="80.3" stroke="#b4b4c4" stroke-width="0.5" />
<line x1="572.4" y1="83.3" x2="573.5" y2="81.0" stroke="#b4b4c4" stroke-width="0.5" />
<line x1="573.8" y1="84.0" x2="575.0" y2="81.7" stroke="#b4b4c4" stroke-width="0.5" />
<line x1="575.2" y1="84.7" x2="576.4" y2="82.4" stroke="#b4b4c4" stroke-width="0.5" />
<line x1="576.7" y1="85.4" x2="577.8" y2="83.1" stroke="#b4b4c4" stroke-width="0.5" />
<line x1="578.1" y1="86.2" x2="579.3" y2="83.8" stroke="#b4b4c4" stroke-width="0.5" />
<line x1="579.5" y1="86.9" x2="580.7" y2="84.5" stroke="#b4b4c4" stroke-width="0.5" />
<line x1="581.0" y1="87.6" x2="582.1" y2="85.2" stroke="#b4b4c4" stroke-width="0.5" />
<line x1="582.4" y1="88.3" x2="583.6" y2="86.0" stroke="#b4b4c4" stroke-width="0.5" />
<line x1="583.9" y1="89.0" x2="585.0" y2="86.7" stroke="#b4b4c4" stroke-width="0.5" />
<line x1="585.3" y1="89.7" x2="586.5" y2="87.4" stroke="#b4b4c4" stroke-width="0.5" />
<line x1="586.7" y1="90.4" x2="587.9" y2="88.1" stroke="#b4b4c4" stroke-width="0.5" />
<line x1="588.2" y1="91.1" x2="589.3" y2="88.8" stroke="#b4b4c4" stroke-width="0.5" />
<line x1="589.6" y1="91.8" x2="590.8" y2="89.5" stroke="#b4b4c4" stroke-width="0.5" />
<line x1="591.0" y1="92.6" x2="592.2" y2="90.2" stroke="#b4b4c4" stroke-width="0.5" />
<line x1="592.5" y1="93.3" x2="593.6" y2="90.9" stroke="#b4b4c4" stroke-width="0.5" />
<line x1="593.9" y1="94.0" x2="595.1" y2="91.6" stroke="#b4b4c4" stroke-width="0.5" />
<line x1="595.4" y1="94.7" x2="596.5" y2="92.4" stroke="#b4b4c4" stroke-width="0.5" />
<line x1="596.8" y1="95.4" x2="598.0" y2="93.1" stroke="#b4b4c4" stroke-width="0.5" />
<line x1="598.2" y1="96.1" x2="599.4" y2="93.8" stroke="#b4b4c4" stroke-width="0.5" />
<line x1="599.7" y1="96.8" x2="600.8" y2="94.5" stroke="#b4b4c4" stroke-width="0.5" />
<line x1="601.1" y1="97.5" x2="602.3" y2="95.2" stroke="#b4b4c4" stroke-width="0.5" />
<line x1="602.5" y1="98.2" x2="603.7" y2="95.9" stroke="#b4b4c4" stroke-width="0.5" />
<line x1="604.0" y1="99.0" x2="605.1" y2="96.6" stroke="#b4b4c4" stroke-width="0.5" />
<path d="M505.8,61.8 L594.8,106.8 A2.6,2.6 0 0 0 597.2,102.2 L508.2,57.2 A2.6,2.6 0 0 0 505.8,61.8 Z" stroke="#a8a898" stroke-width="0.7" fill="none" />
<line x1="507.6" y1="61.8" x2="509.2" y2="58.6" stroke="#c0c0cc" stroke-width="0.5" />
<line x1="509.1" y1="62.6" x2="510.7" y2="59.3" stroke="#c0c0cc" stroke-width="0.5" />
<line x1="510.5" y1="63.3" x2="512.1" y2="60.1" stroke="#c0c0cc" stroke-width="0.5" />
<line x1="511.9" y1="64.0" x2="513.6" y2="60.8" stroke="#c0c0cc" stroke-width="0.5" />
<line x1="513.4" y1="64.7" x2="515.0" y2="61.5" stroke="#c0c0cc" stroke-width="0.5" />
<line x1="514.8" y1="65.5" x2="516.4" y2="62.2" stroke="#c0c0cc" stroke-width="0.5" />
<line x1="516.2" y1="66.2" x2="517.9" y2="63.0" stroke="#c0c0cc" stroke-width="0.5" />
<line x1="517.7" y1="66.9" x2="519.3" y2="63.7" stroke="#c0c0cc" stroke-width="0.5" />
<line x1="519.1" y1="67.6" x2="520.7" y2="64.4" stroke="#c0c0cc" stroke-width="0.5" />
<line x1="520.5" y1="68.4" x2="522.2" y2="65.2" stroke="#c0c0cc" stroke-width="0.5" />
<line x1="522.0" y1="69.1" x2="523.6" y2="65.9" stroke="#c0c0cc" stroke-width="0.5" />
<line x1="523.4" y1="69.8" x2="525.0" y2="66.6" stroke="#c0c0cc" stroke-width="0.5" />
<line x1="524.8" y1="70.5" x2="526.5" y2="67.3" stroke="#c0c0cc" stroke-width="0.5" />
<line x1="526.3" y1="71.3" x2="527.9" y2="68.1" stroke="#c0c0cc" stroke-width="0.5" />
<line x1="527.7" y1="72.0" x2="529.3" y2="68.8" stroke="#c0c0cc" stroke-width="0.5" />
<line x1="529.2" y1="72.7" x2="530.8" y2="69.5" stroke="#c0c0cc" stroke-width="0.5" />
<line x1="530.6" y1="73.4" x2="532.2" y2="70.2" stroke="#c0c0cc" stroke-width="0.5" />
<line x1="532.0" y1="74.2" x2="533.7" y2="71.0" stroke="#c0c0cc" stroke-width="0.5" />
<line x1="533.5" y1="74.9" x2="535.1" y2="71.7" stroke="#c0c0cc" stroke-width="0.5" />
<line x1="534.9" y1="75.6" x2="536.5" y2="72.4" stroke="#c0c0cc" stroke-width="0.5" />
<line x1="536.3" y1="76.3" x2="538.0" y2="73.1" stroke="#c0c0cc" stroke-width="0.5" />
<line x1="537.8" y1="77.1" x2="539.4" y2="73.9" stroke="#c0c0cc" stroke-width="0.5" />
<line x1="539.2" y1="77.8" x2="540.8" y2="74.6" stroke="#c0c0cc" stroke-width="0.5" />
<line x1="540.6" y1="78.5" x2="542.3" y2="75.3" stroke="#c0c0cc" stroke-width="0.5" />
<line x1="542.1" y1="79.3" x2="543.7" y2="76.0" stroke="#c0c0cc" stroke-width="0.5" />
<line x1="543.5" y1="80.0" x2="545.1" y2="76.8" stroke="#c0c0cc" stroke-width="0.5" />
<line x1="544.9" y1="80.7" x2="546.6" y2="77.5" stroke="#c0c0cc" stroke-width="0.5" />
<line x1="546.4" y1="81.4" x2="548.0" y2="78.2" stroke="#c0c0cc" stroke-width="0.5" />
<line x1="547.8" y1="82.2" x2="549.4" y2="78.9" stroke="#c0c0cc" stroke-width="0.5" />
<line x1="549.3" y1="82.9" x2="550.9" y2="79.7" stroke="#c0c0cc" stroke-width="0.5" />
<line x1="550.7" y1="83.6" x2="552.3" y2="80.4" stroke="#c0c0cc" stroke-width="0.5" />
<line x1="552.1" y1="84.3" x2="553.7" y2="81.1" stroke="#c0c0cc" stroke-width="0.5" />
<line x1="553.6" y1="85.1" x2="555.2" y2="81.8" stroke="#c0c0cc" stroke-width="0.5" />
<line x1="555.0" y1="85.8" x2="556.6" y2="82.6" stroke="#c0c0cc" stroke-width="0.5" />
<line x1="556.4" y1="86.5" x2="558.1" y2="83.3" stroke="#c0c0cc" stroke-width="0.5" />
<line x1="557.9" y1="87.2" x2="559.5" y2="84.0" stroke="#c0c0cc" stroke-width="0.5" />
<line x1="559.3" y1="88.0" x2="560.9" y2="84.7" stroke="#c0c0cc" stroke-width="0.5" />
<line x1="560.7" y1="88.7" x2="562.4" y2="85.5" stroke="#c0c0cc" stroke-width="0.5" />
<line x1="562.2" y1="89.4" x2="563.8" y2="86.2" stroke="#c0c0cc" stroke-width="0.5" />
<line x1="563.6" y1="90.1" x2="565.2" y2="86.9" stroke="#c0c0cc" stroke-width="0.5" />
<line x1="565.0" y1="90.9" x2="566.7" y2="87.7" stroke="#c0c0cc" stroke-width="0.5" />
<line x1="566.5" y1="91.6" x2="568.1" y2="88.4" stroke="#c0c0cc" stroke-width="0.5" />
<line x1="567.9" y1="92.3" x2="569.5" y2="89.1" stroke="#c0c0cc" stroke-width="0.5" />
<line x1="569.3" y1="93.0" x2="571.0" y2="89.8" stroke="#c0c0cc" stroke-width="0.5" />
<line x1="570.8" y1="93.8" x2="572.4" y2="90.6" stroke="#c0c0cc" stroke-width="0.5" />
<line x1="572.2" y1="94.5" x2="573.8" y2="91.3" stroke="#c0c0cc" stroke-width="0.5" />
<line x1="573.7" y1="95.2" x2="575.3" y2="92.0" stroke="#c0c0cc" stroke-width="0.5" />
<line x1="575.1" y1="95.9" x2="576.7" y2="92.7" stroke="#c0c0cc" stroke-width="0.5" />
<line x1="576.5" y1="96.7" x2="578.2" y2="93.5" stroke="#c0c0cc" stroke-width="0.5" />
<line x1="578.0" y1="97.4" x2="579.6" y2="94.2" stroke="#c0c0cc" stroke-width="0.5" />
<line x1="579.4" y1="98.1" x2="581.0" y2="94.9" stroke="#c0c0cc" stroke-width="0.5" />
<line x1="580.8" y1="98.8" x2="582.5" y2="95.6" stroke="#c0c0cc" stroke-width="0.5" />
<line x1="582.3" y1="99.6" x2="583.9" y2="96.4" stroke="#c0c0cc" stroke-width="0.5" />
<line x1="583.7" y1="100.3" x2="585.3" y2="97.1" stroke="#c0c0cc" stroke-width="0.5" />
<line x1="585.1" y1="101.0" x2="586.8" y2="97.8" stroke="#c0c0cc" stroke-width="0.5" />
<line x1="586.6" y1="101.8" x2="588.2" y2="98.5" stroke="#c0c0cc" stroke-width="0.5" />
<line x1="588.0" y1="102.5" x2="589.6" y2="99.3" stroke="#c0c0cc" stroke-width="0.5" />
<line x1="589.4" y1="103.2" x2="591.1" y2="100.0" stroke="#c0c0cc" stroke-width="0.5" />
<line x1="590.9" y1="103.9" x2="592.5" y2="100.7" stroke="#c0c0cc" stroke-width="0.5" />
<line x1="592.3" y1="104.7" x2="593.9" y2="101.4" stroke="#c0c0cc" stroke-width="0.5" />
<line x1="593.8" y1="105.4" x2="595.4" y2="102.2" stroke="#c0c0cc" stroke-width="0.5" />
<path d="M549,75 L556,82 M553,73 L560,80" stroke="#9a9aaa" stroke-width="0.6" fill="none" />
<path d="M605.6,112 C605.8,108.5 609,106.5 613,107.5 C619,110.5 624,119 626.8,130.7 C628,140 628.3,148 628.3,156.8 L617.2,162.6 C614.5,145 610.5,128 605.6,112 Z" stroke="#1c1c24" stroke-width="1.0" fill="#fff" />
<path d="M617.2,155.5 L628,150.5 M619.5,162 L619.5,156.5 M607.5,113 C612,124 615.5,138 617.2,155.5" stroke="#a8a890" stroke-width="0.6" fill="none" />
<text transform="translate(548.8,45.5) scale(0.88,1)" text-anchor="middle" font-size="12.4" font-weight="bold">199</text>
<line x1="548.5" y1="48.1" x2="548.5" y2="62.6" stroke="#6a6a70" stroke-width="0.8" />
<path d="M606.9,33.5 C607,29.5 610,28.8 614,28.8 C618,28.8 621.2,29.5 621.2,33.5 C619,36.5 609,36.5 606.9,33.5 Z" stroke="#1c1c24" stroke-width="1" fill="#fff"/>
<line x1="614.5" y1="30" x2="614.5" y2="32.5" stroke="#666" stroke-width="0.6" />
<path d="M611,36 L611,93 Q614.2,95 617.5,93 L617.5,36" stroke="#1c1c24" stroke-width="1.0" fill="#fff" />
<line x1="611.6" y1="57.8" x2="616.9" y2="57" stroke="#77778a" stroke-width="0.7" />
<line x1="611.6" y1="59.599999999999994" x2="616.9" y2="58.8" stroke="#77778a" stroke-width="0.7" />
<line x1="611.6" y1="61.39999999999999" x2="616.9" y2="60.599999999999994" stroke="#77778a" stroke-width="0.7" />
<line x1="611.6" y1="63.19999999999999" x2="616.9" y2="62.39999999999999" stroke="#77778a" stroke-width="0.7" />
<line x1="611.6" y1="64.99999999999999" x2="616.9" y2="64.19999999999999" stroke="#77778a" stroke-width="0.7" />
<line x1="611.6" y1="66.79999999999998" x2="616.9" y2="65.99999999999999" stroke="#77778a" stroke-width="0.7" />
<line x1="611.6" y1="68.59999999999998" x2="616.9" y2="67.79999999999998" stroke="#77778a" stroke-width="0.7" />
<line x1="611.6" y1="70.39999999999998" x2="616.9" y2="69.59999999999998" stroke="#77778a" stroke-width="0.7" />
<line x1="611.6" y1="72.19999999999997" x2="616.9" y2="71.39999999999998" stroke="#77778a" stroke-width="0.7" />
<line x1="611.6" y1="73.99999999999997" x2="616.9" y2="73.19999999999997" stroke="#77778a" stroke-width="0.7" />
<line x1="611.6" y1="75.79999999999997" x2="616.9" y2="74.99999999999997" stroke="#77778a" stroke-width="0.7" />
<line x1="611.6" y1="77.59999999999997" x2="616.9" y2="76.79999999999997" stroke="#77778a" stroke-width="0.7" />
<line x1="611.6" y1="79.39999999999996" x2="616.9" y2="78.59999999999997" stroke="#77778a" stroke-width="0.7" />
<line x1="611.6" y1="81.19999999999996" x2="616.9" y2="80.39999999999996" stroke="#77778a" stroke-width="0.7" />
<line x1="611.6" y1="82.99999999999996" x2="616.9" y2="82.19999999999996" stroke="#77778a" stroke-width="0.7" />
<line x1="611.6" y1="84.79999999999995" x2="616.9" y2="83.99999999999996" stroke="#77778a" stroke-width="0.7" />
<line x1="611.6" y1="86.59999999999995" x2="616.9" y2="85.79999999999995" stroke="#77778a" stroke-width="0.7" />
<line x1="611.6" y1="88.39999999999995" x2="616.9" y2="87.59999999999995" stroke="#77778a" stroke-width="0.7" />
<line x1="611.6" y1="90.19999999999995" x2="616.9" y2="89.39999999999995" stroke="#77778a" stroke-width="0.7" />
<line x1="611.6" y1="91.99999999999994" x2="616.9" y2="91.19999999999995" stroke="#77778a" stroke-width="0.7" />
<text transform="translate(641,45.5) scale(0.88,1)" text-anchor="middle" font-size="12.4" font-weight="bold">198</text>
<path d="M641.5,48.5 L641.5,61.7 L618,74.3" stroke="#6a6a70" stroke-width="0.8" fill="none" />
<path d="M554.3,166.79000000000002 L554.3,195.5 Q557.4,197.5 560.5,195.5 L560.5,166.79000000000002" stroke="#1c1c24" stroke-width="1" fill="#e9e7d6"/>
<line x1="555.0" y1="169.9" x2="559.8" y2="169.0" stroke="#9a987c" stroke-width="0.7" />
<line x1="555.0" y1="171.8" x2="559.8" y2="170.9" stroke="#9a987c" stroke-width="0.7" />
<line x1="555.0" y1="173.7" x2="559.8" y2="172.8" stroke="#9a987c" stroke-width="0.7" />
<line x1="555.0" y1="175.6" x2="559.8" y2="174.7" stroke="#9a987c" stroke-width="0.7" />
<line x1="555.0" y1="177.5" x2="559.8" y2="176.6" stroke="#9a987c" stroke-width="0.7" />
<line x1="555.0" y1="179.4" x2="559.8" y2="178.5" stroke="#9a987c" stroke-width="0.7" />
<line x1="555.0" y1="181.3" x2="559.8" y2="180.4" stroke="#9a987c" stroke-width="0.7" />
<line x1="555.0" y1="183.2" x2="559.8" y2="182.3" stroke="#9a987c" stroke-width="0.7" />
<line x1="555.0" y1="185.1" x2="559.8" y2="184.2" stroke="#9a987c" stroke-width="0.7" />
<line x1="555.0" y1="187.0" x2="559.8" y2="186.1" stroke="#9a987c" stroke-width="0.7" />
<line x1="555.0" y1="188.9" x2="559.8" y2="188.0" stroke="#9a987c" stroke-width="0.7" />
<line x1="555.0" y1="190.8" x2="559.8" y2="189.9" stroke="#9a987c" stroke-width="0.7" />
<line x1="555.0" y1="192.7" x2="559.8" y2="191.8" stroke="#9a987c" stroke-width="0.7" />
<line x1="555.0" y1="194.6" x2="559.8" y2="193.7" stroke="#9a987c" stroke-width="0.7" />
<path d="M552.1,163.55 L552.1,166.20000000000002 A5.3,2.65 0 0 0 562.6999999999999,166.20000000000002 L562.6999999999999,163.55" stroke="#1c1c24" stroke-width="0.9" fill="#fff"/>
<ellipse cx="557.4" cy="163.55" rx="5.3" ry="2.65" stroke="#1c1c24" stroke-width="0.9" fill="#fff"/>
<path d="M555.8,162.95000000000002 L557.4,164.05 L559.0,162.95000000000002 M557.4,164.05 L557.4,162.15" stroke="#555" stroke-width="0.6" fill="none"/>
<path d="M577.4,153.19000000000003 L577.4,182.29999999999998 Q580.5,184.29999999999998 583.6,182.29999999999998 L583.6,153.19000000000003" stroke="#1c1c24" stroke-width="1" fill="#e9e7d6"/>
<line x1="578.1" y1="156.3" x2="582.9" y2="155.4" stroke="#9a987c" stroke-width="0.7" />
<line x1="578.1" y1="158.2" x2="582.9" y2="157.3" stroke="#9a987c" stroke-width="0.7" />
<line x1="578.1" y1="160.1" x2="582.9" y2="159.2" stroke="#9a987c" stroke-width="0.7" />
<line x1="578.1" y1="162.0" x2="582.9" y2="161.1" stroke="#9a987c" stroke-width="0.7" />
<line x1="578.1" y1="163.9" x2="582.9" y2="163.0" stroke="#9a987c" stroke-width="0.7" />
<line x1="578.1" y1="165.8" x2="582.9" y2="164.9" stroke="#9a987c" stroke-width="0.7" />
<line x1="578.1" y1="167.7" x2="582.9" y2="166.8" stroke="#9a987c" stroke-width="0.7" />
<line x1="578.1" y1="169.6" x2="582.9" y2="168.7" stroke="#9a987c" stroke-width="0.7" />
<line x1="578.1" y1="171.5" x2="582.9" y2="170.6" stroke="#9a987c" stroke-width="0.7" />
<line x1="578.1" y1="173.4" x2="582.9" y2="172.5" stroke="#9a987c" stroke-width="0.7" />
<line x1="578.1" y1="175.3" x2="582.9" y2="174.4" stroke="#9a987c" stroke-width="0.7" />
<line x1="578.1" y1="177.2" x2="582.9" y2="176.3" stroke="#9a987c" stroke-width="0.7" />
<line x1="578.1" y1="179.1" x2="582.9" y2="178.2" stroke="#9a987c" stroke-width="0.7" />
<line x1="578.1" y1="181.0" x2="582.9" y2="180.1" stroke="#9a987c" stroke-width="0.7" />
<path d="M575.2,149.95000000000002 L575.2,152.60000000000002 A5.3,2.65 0 0 0 585.8,152.60000000000002 L585.8,149.95000000000002" stroke="#1c1c24" stroke-width="0.9" fill="#fff"/>
<ellipse cx="580.5" cy="149.95000000000002" rx="5.3" ry="2.65" stroke="#1c1c24" stroke-width="0.9" fill="#fff"/>
<path d="M578.9,149.35000000000002 L580.5,150.45000000000002 L582.1,149.35000000000002 M580.5,150.45000000000002 L580.5,148.55" stroke="#555" stroke-width="0.6" fill="none"/>
<path d="M629.6999999999999,181.29000000000002 L629.6999999999999,209.6 Q632.8,211.6 635.9,209.6 L635.9,181.29000000000002" stroke="#1c1c24" stroke-width="1" fill="#e9e7d6"/>
<line x1="630.4" y1="184.4" x2="635.2" y2="183.5" stroke="#9a987c" stroke-width="0.7" />
<line x1="630.4" y1="186.3" x2="635.2" y2="185.4" stroke="#9a987c" stroke-width="0.7" />
<line x1="630.4" y1="188.2" x2="635.2" y2="187.3" stroke="#9a987c" stroke-width="0.7" />
<line x1="630.4" y1="190.1" x2="635.2" y2="189.2" stroke="#9a987c" stroke-width="0.7" />
<line x1="630.4" y1="192.0" x2="635.2" y2="191.1" stroke="#9a987c" stroke-width="0.7" />
<line x1="630.4" y1="193.9" x2="635.2" y2="193.0" stroke="#9a987c" stroke-width="0.7" />
<line x1="630.4" y1="195.8" x2="635.2" y2="194.9" stroke="#9a987c" stroke-width="0.7" />
<line x1="630.4" y1="197.7" x2="635.2" y2="196.8" stroke="#9a987c" stroke-width="0.7" />
<line x1="630.4" y1="199.6" x2="635.2" y2="198.7" stroke="#9a987c" stroke-width="0.7" />
<line x1="630.4" y1="201.5" x2="635.2" y2="200.6" stroke="#9a987c" stroke-width="0.7" />
<line x1="630.4" y1="203.4" x2="635.2" y2="202.5" stroke="#9a987c" stroke-width="0.7" />
<line x1="630.4" y1="205.3" x2="635.2" y2="204.4" stroke="#9a987c" stroke-width="0.7" />
<line x1="630.4" y1="207.2" x2="635.2" y2="206.3" stroke="#9a987c" stroke-width="0.7" />
<line x1="630.4" y1="209.1" x2="635.2" y2="208.2" stroke="#9a987c" stroke-width="0.7" />
<path d="M627.5,178.05 L627.5,180.70000000000002 A5.3,2.65 0 0 0 638.0999999999999,180.70000000000002 L638.0999999999999,178.05" stroke="#1c1c24" stroke-width="0.9" fill="#fff"/>
<ellipse cx="632.8" cy="178.05" rx="5.3" ry="2.65" stroke="#1c1c24" stroke-width="0.9" fill="#fff"/>
<path d="M631.1999999999999,177.45000000000002 L632.8,178.55 L634.4,177.45000000000002 M632.8,178.55 L632.8,176.65" stroke="#555" stroke-width="0.6" fill="none"/>
<text transform="translate(530.7,142.3) scale(0.88,1)" text-anchor="middle" font-size="12.4" font-weight="bold">191</text>
<text transform="translate(530.7,155.7) scale(0.88,1)" text-anchor="middle" font-size="12.4" font-weight="bold">(3x)</text>
<path d="M531.5,158.5 L531.5,171 L551,179" stroke="#6a6a70" stroke-width="0.8" fill="none" />
<path d="M652,162.8 L664.8,156.8 L681,166 L669,172 Z" stroke="#1c1c24" stroke-width="1.1" fill="#fff" />
<path d="M652,162.8 L654,176 L668.5,184.5 L679,178 L681,166" stroke="#1c1c24" stroke-width="1.1" fill="#fff" />
<path d="M669,172 L668.5,184.5" stroke="#1c1c24" stroke-width="0.8" fill="none" />
<path d="M655,165 L665,160 L678,167 L668,171.5 Z" stroke="#a8a890" stroke-width="0.6" fill="none" />
<path d="M654.5,169 L668.8,177 L680,171" stroke="#a8a890" stroke-width="0.6" fill="none" />
<path d="M664.5,181 L664.5,187.5 L667,187.5 L667,182.8 M669.8,184 L669.8,189 L672.5,189 L672.5,182.5" stroke="#1c1c24" stroke-width="0.9" fill="none" />
<text transform="translate(659.4,140.3) scale(0.88,1)" text-anchor="middle" font-size="12.4" font-weight="bold">200</text>
<line x1="659.5" y1="143.5" x2="659.5" y2="156.8" stroke="#6a6a70" stroke-width="0.8" />
<path d="M587.1,199.8 C589,199.6 590,200 591,200.6 L615.1,215.4 L633.7,225.6 C636.5,227 639,227.5 642.2,227.3 L749,225.1 C751.5,225.1 753,225.6 754.5,226.4 L829,278.1 C833,280.5 835.8,283 837.1,284.5 C840,288.5 841.5,292.5 841.7,296.3 L840.7,300.8 C834,306 826,311 819.9,314.5 L750.8,355.3 L732.7,363.5 C729.5,365 727,365.5 725.4,365.3 L718.1,364.4 L519.3,254.4 C517.5,252.5 517.4,250.5 517.6,249.3 L518.5,239.2 C519,237.5 520,236.5 521,235.8 L584.6,200.2 C585.5,199.9 586.3,199.8 587.1,199.8 Z" stroke="#1c1c24" stroke-width="1.3" fill="#fff" />
<path d="M521,236.6 L716,344.6 C721,347.5 725,352 727.2,363.5" stroke="#a8a890" stroke-width="0.7" fill="none" />
<path d="M520.2,244.2 L713,350.6 C718,353.5 720.5,357 721.8,363.5" stroke="#a8a890" stroke-width="0.7" fill="none" />
<path d="M522,238.5 L714,346.5" stroke="#b0b0c0" stroke-width="0.5" fill="none" />
<ellipse cx="557.1" cy="249.7" rx="6.2" ry="3.4" stroke="#8c8c80" stroke-width="0.8" fill="none" transform="rotate(0 557.1 249.7)"/>
<ellipse cx="580.3" cy="236.1" rx="6.5" ry="3.6" stroke="#8c8c80" stroke-width="0.8" fill="none" transform="rotate(0 580.3 236.1)"/>
<ellipse cx="634.6" cy="264.6" rx="5" ry="3" stroke="#8c8c80" stroke-width="0.8" fill="none" transform="rotate(0 634.6 264.6)"/>
<path d="M591.4,271.4 C590,268 593,263 597,261 L608,256.5 C611,255.5 614,256 616,257.5 L629,265 C632,267 632.5,271 630,273 L615,280.5 C612,282 608,282 606,281 L594,275.5 C592.5,274.5 591.8,273 591.4,271.4 Z" stroke="#8c8c80" stroke-width="0.9" fill="none" />
<path d="M594,271 L609,263 L626,270 L611,278 Z" stroke="#a0a090" stroke-width="0.7" fill="none" />
<path d="M601.5,267 L618.5,274 M604,273.5 L616.5,266.5" stroke="#a0a090" stroke-width="0.6" fill="none" />
<path d="M589.7,273 C589,279 592,284 598,286 L606,288.3 C609,288.5 611,288 613,287 L631,278" stroke="#a0a090" stroke-width="0.7" fill="none" />
<path d="M662.7,300 C662.5,294 663.5,290 665.4,287.2 C667,285.5 669,284.5 670.9,283.6 L732.7,249.1 C735.5,247 738.5,245.8 741.7,245.4 L765.4,245.1 C768,245.1 770.5,246 772.6,247.2 L796.2,263.6 C798.5,265.5 799.5,267.5 799,269 L794.4,274.5" stroke="#a8a890" stroke-width="0.8" fill="none" />
<path d="M667,300 C667,295 668,292 670,290 L735,253 C738,251.5 741,250.5 744,250.4 L764,250.2 C767,250.3 769.5,251 771.5,252.5 L792,266.5 C794,268.5 794.5,270 793,272" stroke="#b8b8a8" stroke-width="0.6" fill="none" />
<path d="M671.8,305.4 L736.3,267.2 C738,266 740,265.5 741.7,265.4 L761.7,265 C764.5,265 767,266 769,267.6 L787.2,278.1 L714.5,320.8 C711,322.5 708,323.5 705.4,323.5 C703,323.5 701.5,323.2 700,322.6 L683.6,312.6 Z" stroke="#1c1c24" stroke-width="1.2" fill="#fff" />
<path d="M662,307 L676,299.5 L688,306.5 L677,313.5 Z" stroke="#8c8c80" stroke-width="0.7" fill="none" />
<path d="M666,309 L676,303 L683,307" stroke="#a0a090" stroke-width="0.6" fill="none" />
<path d="M739.9,359.9 C737,350 735,338 735.4,331.7 C736,329.5 738.5,328 741.7,327.2 L807.1,287.2 C809.5,286.2 812,286 814.4,286.3 C820,287.5 824,290 827.1,292.7 C831,297 833.5,301.5 834.4,305.4" stroke="#a8a890" stroke-width="0.8" fill="none" />
<path d="M747.2,356.2 C745,348 743.2,338 743.6,330.8 L810.8,292.7 C814,291.5 817,292.5 819.9,294.5 C823,298 826,303 828,307.2" stroke="#a8a890" stroke-width="0.8" fill="none" />
<path d="M754.5,352.6 C752.5,345 751.3,338 751.7,331.7 L809,299 C812,298 814.5,298.5 816.2,299.9 C819,303 820.8,307 821.7,310.8" stroke="#8a8aa0" stroke-width="0.8" fill="none" />
<path d="M737,360 C734,350 732,340 732.5,332 M744.5,357.5 C742,348 740,338 740.5,330" stroke="#b8b8a8" stroke-width="0.5" fill="none" />
<text transform="translate(713.6,207.6) scale(0.88,1)" text-anchor="middle" font-size="12.4" font-weight="bold">192</text>
<line x1="713.5" y1="210.8" x2="713.5" y2="224.4" stroke="#6a6a70" stroke-width="0.8" />
<path d="M591.3,343.68 L591.3,355.6 L593.3,358.6 L595.3,355.6 L595.3,343.68" stroke="#1c1c24" stroke-width="1" fill="#e9e7d6"/>
<line x1="592.0" y1="346.8" x2="594.6" y2="345.9" stroke="#9a987c" stroke-width="0.7" />
<line x1="592.0" y1="348.7" x2="594.6" y2="347.8" stroke="#9a987c" stroke-width="0.7" />
<line x1="592.0" y1="350.6" x2="594.6" y2="349.7" stroke="#9a987c" stroke-width="0.7" />
<line x1="592.0" y1="352.5" x2="594.6" y2="351.6" stroke="#9a987c" stroke-width="0.7" />
<line x1="592.0" y1="354.4" x2="594.6" y2="353.5" stroke="#9a987c" stroke-width="0.7" />
<line x1="592.0" y1="356.3" x2="594.6" y2="355.4" stroke="#9a987c" stroke-width="0.7" />
<path d="M589.6999999999999,341.8 L589.6999999999999,343.6 A3.6,1.8 0 0 0 596.9,343.6 L596.9,341.8" stroke="#1c1c24" stroke-width="0.9" fill="#fff"/>
<ellipse cx="593.3" cy="341.8" rx="3.6" ry="1.8" stroke="#1c1c24" stroke-width="0.9" fill="#fff"/>
<path d="M591.6999999999999,341.2 L593.3,342.3 L594.9,341.2 M593.3,342.3 L593.3,340.40000000000003" stroke="#555" stroke-width="0.6" fill="none"/>
<text transform="translate(566,317.2) scale(0.88,1)" text-anchor="middle" font-size="12.4" font-weight="bold">201</text>
<path d="M566.5,319.8 L566.5,328.4 L588.9,342.2" stroke="#6a6a70" stroke-width="0.8" fill="none" />
<path d="M578.4,381.5 L592,374.5 L608.5,383 L594.8,390.8 Z" stroke="#1c1c24" stroke-width="1.0" fill="#fff" />
<path d="M589.8000000000001,369.8 L589.8000000000001,379.3 A3.9,1.6 0 0 0 597.6,379.3 L597.6,369.8" stroke="#1c1c24" stroke-width="1.0" fill="#fff" />
<ellipse cx="593.7" cy="369.8" rx="3.9" ry="1.6" stroke="#1c1c24" stroke-width="0.9" fill="#fff" transform="rotate(0 593.7 369.8)"/>
<ellipse cx="593.7" cy="372.40000000000003" rx="3.6" ry="1.3" stroke="#a4a48c" stroke-width="0.6" fill="none" transform="rotate(0 593.7 372.40000000000003)"/>
<path d="M581.9,374.3 L581.9,383.3 A3.7,1.6 0 0 0 589.3000000000001,383.3 L589.3000000000001,374.3" stroke="#1c1c24" stroke-width="1.0" fill="#fff" />
<ellipse cx="585.6" cy="374.3" rx="3.7" ry="1.6" stroke="#1c1c24" stroke-width="0.9" fill="#fff" transform="rotate(0 585.6 374.3)"/>
<ellipse cx="585.6" cy="376.90000000000003" rx="3.4000000000000004" ry="1.3" stroke="#a4a48c" stroke-width="0.6" fill="none" transform="rotate(0 585.6 376.90000000000003)"/>
<path d="M597.5,374.3 L597.5,383.3 A3.6,1.6 0 0 0 604.7,383.3 L604.7,374.3" stroke="#1c1c24" stroke-width="1.0" fill="#fff" />
<ellipse cx="601.1" cy="374.3" rx="3.6" ry="1.6" stroke="#1c1c24" stroke-width="0.9" fill="#fff" transform="rotate(0 601.1 374.3)"/>
<ellipse cx="601.1" cy="376.90000000000003" rx="3.3000000000000003" ry="1.3" stroke="#a4a48c" stroke-width="0.6" fill="none" transform="rotate(0 601.1 376.90000000000003)"/>
<path d="M578.4,381.5 L594.8,390.8 L594.8,399.8 L578.4,390.4 Z" stroke="#1c1c24" stroke-width="1.0" fill="#fff" />
<path d="M594.8,390.8 L608.5,383 L608.5,393.1 L603.2,395.4 L600.9,395 L600.4,396.8 L594.8,399.8 Z" stroke="#1c1c24" stroke-width="1.0" fill="#fff" />
<path d="M601,387 L601,395.2 M594.3,386.7 L601,383" stroke="#8a8a8a" stroke-width="0.7" fill="none" />
<ellipse cx="604.8" cy="388.6" rx="1.5" ry="2.6" stroke="#777" stroke-width="0.6" fill="none" transform="rotate(0 604.8 388.6)"/>
<ellipse cx="597.8" cy="393.8" rx="1.4" ry="2.4" stroke="#777" stroke-width="0.6" fill="none" transform="rotate(0 597.8 393.8)"/>
<text transform="translate(575.8,353.7) scale(0.88,1)" text-anchor="middle" font-size="12.4" font-weight="bold">202</text>
<path d="M575.5,356.7 L575.5,366.9 L581.6,371.3" stroke="#6a6a70" stroke-width="0.8" fill="none" />
<path d="M664.5,361.5 C666,358.5 669,358 671.1,358.2 L688.5,368.4 C690.5,370 691,372 690.7,374 L690.7,382.9 C689.5,385 686,386 681.2,385.1 L667,376.5 C665.5,375.5 665,374.5 665.3,373 Z" stroke="#1c1c24" stroke-width="1.1" fill="#fff" />
<path d="M665.3,366 C667,362.5 670,362 672,363 L689,372.5" stroke="#a8a890" stroke-width="0.6" fill="none" />
<path d="M678,366 L678,379 M683,369 L683,383" stroke="#a8a890" stroke-width="0.6" fill="none" />
<ellipse cx="685.5" cy="377" rx="2.2" ry="3.2" stroke="#1c1c24" stroke-width="0.7" fill="none" transform="rotate(0 685.5 377)"/>
<text transform="translate(631.8,342.2) scale(0.88,1)" text-anchor="middle" font-size="12.4" font-weight="bold">203</text>
<path d="M643.4,338.5 L649.3,338.5 L665.3,358.9" stroke="#6a6a70" stroke-width="0.8" fill="none" />
<path d="M615.5,394.8 L620.2,389.3 L625.3,387 L625.3,382.3 L635.2,377.1 L640.7,379.9 L649.3,375.2 L674.5,389.3 L640.7,409.8 Z" stroke="#1c1c24" stroke-width="1.2" fill="#fff" />
<path d="M615.5,394.8 L615.8,396.6 L640.7,411.6 L674.5,391.1 L674.5,389.3" stroke="#1c1c24" stroke-width="1.0" fill="none" />
<path d="M625.3,382.3 L635,388 L646.5,381.5 M635,388 L635,394 M620.2,389.3 L632,396 L640.7,391.5 M626,386 L636,391.5" stroke="#a4a48c" stroke-width="0.7" fill="none" />
<path d="M628,381 L637,386 M630.5,379.5 L639.5,384.5 M633,383 L633,380" stroke="#b0b0c0" stroke-width="0.6" fill="none" />
<path d="M646.2,387 L646.2,394.5 A3.75,2 0 0 0 653.7,394.5 L653.7,387" stroke="#a4a48c" stroke-width="0.7" fill="none" />
<ellipse cx="650" cy="387" rx="3.75" ry="2" stroke="#a4a48c" stroke-width="0.7" fill="none" transform="rotate(0 650 387)"/>
<path d="M634,399 L637.5,397.2 L641.9,399.5 L641.9,403 L638.3,404.8 L634,402.5 Z M634,399 L638.3,401.3 L641.9,399.5 M638.3,401.3 L638.3,404.8" stroke="#a4a48c" stroke-width="0.6" fill="none" />
<ellipse cx="659" cy="387" rx="1.2" ry="0.8" stroke="#a4a48c" stroke-width="0.6" fill="none" transform="rotate(0 659 387)"/>
<ellipse cx="662.5" cy="389.5" rx="1.2" ry="0.8" stroke="#a4a48c" stroke-width="0.6" fill="none" transform="rotate(0 662.5 389.5)"/>
<ellipse cx="666" cy="387.5" rx="1.2" ry="0.8" stroke="#a4a48c" stroke-width="0.6" fill="none" transform="rotate(0 666 387.5)"/>
<ellipse cx="658.5" cy="383" rx="1.2" ry="0.8" stroke="#a4a48c" stroke-width="0.6" fill="none" transform="rotate(0 658.5 383)"/>
<ellipse cx="618.5" cy="394.5" rx="1.2" ry="0.8" stroke="#a4a48c" stroke-width="0.6" fill="none" transform="rotate(0 618.5 394.5)"/>
<ellipse cx="621" cy="396" rx="1.2" ry="0.8" stroke="#a4a48c" stroke-width="0.6" fill="none" transform="rotate(0 621 396)"/>
<text transform="translate(631.1,361.6) scale(0.88,1)" text-anchor="middle" font-size="12.4" font-weight="bold">193</text>
<line x1="631.5" y1="364.2" x2="631.5" y2="377.8" stroke="#6a6a70" stroke-width="0.8" />
<path d="M547.4,376.23 L547.4,388.4 Q549.9,390.4 552.4,388.4 L552.4,376.23" stroke="#1c1c24" stroke-width="1" fill="#e9e7d6"/>
<line x1="548.1" y1="379.3" x2="551.7" y2="378.4" stroke="#9a987c" stroke-width="0.7" />
<line x1="548.1" y1="381.2" x2="551.7" y2="380.3" stroke="#9a987c" stroke-width="0.7" />
<line x1="548.1" y1="383.1" x2="551.7" y2="382.2" stroke="#9a987c" stroke-width="0.7" />
<line x1="548.1" y1="385.0" x2="551.7" y2="384.1" stroke="#9a987c" stroke-width="0.7" />
<line x1="548.1" y1="386.9" x2="551.7" y2="386.0" stroke="#9a987c" stroke-width="0.7" />
<path d="M545.1999999999999,373.5 L545.1999999999999,375.85 A4.7,2.3 0 0 0 554.6,375.85 L554.6,373.5" stroke="#1c1c24" stroke-width="0.9" fill="#fff"/>
<ellipse cx="549.9" cy="373.5" rx="4.7" ry="2.3" stroke="#1c1c24" stroke-width="0.9" fill="#fff"/>
<path d="M548.3,372.9 L549.9,374.0 L551.5,372.9 M549.9,374.0 L549.9,372.1" stroke="#555" stroke-width="0.6" fill="none"/>
<path d="M561.7,368.63000000000005 L561.7,380.4 Q564.2,382.4 566.7,380.4 L566.7,368.63000000000005" stroke="#1c1c24" stroke-width="1" fill="#e9e7d6"/>
<line x1="562.4" y1="371.7" x2="566.0" y2="370.8" stroke="#9a987c" stroke-width="0.7" />
<line x1="562.4" y1="373.6" x2="566.0" y2="372.7" stroke="#9a987c" stroke-width="0.7" />
<line x1="562.4" y1="375.5" x2="566.0" y2="374.6" stroke="#9a987c" stroke-width="0.7" />
<line x1="562.4" y1="377.4" x2="566.0" y2="376.5" stroke="#9a987c" stroke-width="0.7" />
<line x1="562.4" y1="379.3" x2="566.0" y2="378.4" stroke="#9a987c" stroke-width="0.7" />
<path d="M559.5,365.90000000000003 L559.5,368.25000000000006 A4.7,2.3 0 0 0 568.9000000000001,368.25000000000006 L568.9000000000001,365.90000000000003" stroke="#1c1c24" stroke-width="0.9" fill="#fff"/>
<ellipse cx="564.2" cy="365.90000000000003" rx="4.7" ry="2.3" stroke="#1c1c24" stroke-width="0.9" fill="#fff"/>
<path d="M562.6,365.3 L564.2,366.40000000000003 L565.8000000000001,365.3 M564.2,366.40000000000003 L564.2,364.50000000000006" stroke="#555" stroke-width="0.6" fill="none"/>
<text transform="translate(524.4,343.8) scale(0.88,1)" text-anchor="middle" font-size="12.4" font-weight="bold">19</text>
<text transform="translate(524.4,358.2) scale(0.88,1)" text-anchor="middle" font-size="12.4" font-weight="bold">(2x)</text>
<path d="M523.5,362.5 L523.5,376.2 L545.4,382.3" stroke="#6a6a70" stroke-width="0.8" fill="none" />
<path d="M544.3,400.5 C543.8,397.5 545,395.5 548,394 L562.4,388.1 C565,387.2 567.8,387.6 569,389.6 C569.6,390.8 569.5,391.8 569.3,392.5 C569.8,395.5 569,397 566.5,398.5 L552.3,406 C548,407 545,405.5 544.3,402.5 Z" stroke="#1c1c24" stroke-width="1.0" fill="#fff" />
<path d="M544.3,400.5 C543.8,397.5 545,395.5 548,394 L562.4,388.1 C565,387.2 567.8,387.6 569,389.6 C569.6,390.8 569.5,391.8 569.3,392.5" stroke="#1c1c24" stroke-width="1.0" fill="none" />
<path d="M546.5,401.5 L566,394.5" stroke="#a4a48c" stroke-width="0.7" fill="none" />
<ellipse cx="549.9" cy="398.6" rx="3.2" ry="1.6" stroke="#a4a48c" stroke-width="0.6" fill="none" transform="rotate(-22 549.9 398.6)"/>
<ellipse cx="564.2" cy="391.8" rx="3.2" ry="1.6" stroke="#a4a48c" stroke-width="0.6" fill="none" transform="rotate(-22 564.2 391.8)"/>
<path d="M552.5,396.8 L560.5,393.2 M553.5,398.6 L561.5,395 M556,394 L558,397.5" stroke="#a4a48c" stroke-width="0.6" fill="none" />
<text transform="translate(507,405.8) scale(0.88,1)" text-anchor="middle" font-size="12.4" font-weight="bold">211</text>
<line x1="519.3" y1="401.5" x2="543.1" y2="401.5" stroke="#6a6a70" stroke-width="0.8" />
<path d="M682.5,400.8 L714.8,399.3 L714.8,419.3 L682.5,420.8 Z" stroke="#1c1c24" stroke-width="1.1" fill="#fff" />
<line x1="684" y1="403.5" x2="713" y2="402" stroke="#777" stroke-width="0.6" />
<text transform="translate(722.5,382.4) scale(0.88,1)" text-anchor="middle" font-size="12.4" font-weight="bold">12</text>
<path d="M712,378.5 L705.6,378.5 L701,397.7" stroke="#6a6a70" stroke-width="0.8" fill="none" />
<path d="M748.7,393.1 L778,380.8 L796.4,393.1 L796.4,411.6 L768.7,424 L750,413 Z" stroke="#1c1c24" stroke-width="1.1" fill="#fff" />
<path d="M750,394 L768.7,405.4 L796.4,393.1 M768.7,405.4 L768.7,424" stroke="#a4a48c" stroke-width="0.9" fill="none" />
<path d="M744,388.5 L757,383 L764,385.5 L764,388 L752,393.5 L744,391 Z" stroke="#1c1c24" stroke-width="1.0" fill="#fff" />
<path d="M744,388.5 L752,391.5 L764,386 M752,391.5 L752,393.5" stroke="#1c1c24" stroke-width="0.8" fill="none" />
<path d="M757,414 L765,418.5" stroke="#666" stroke-width="1.2" fill="none" />
<text transform="translate(787.8,368) scale(0.88,1)" text-anchor="middle" font-size="12.4" font-weight="bold">4</text>
<line x1="787.5" y1="371.5" x2="787.5" y2="383.9" stroke="#6a6a70" stroke-width="0.8" />
<path d="M584.0,533.1 L584.0,519.8 Q586.2,516.3 588.4000000000001,519.8 L588.4000000000001,533.1" stroke="#1c1c24" stroke-width="1" fill="#fff"/>
<line x1="584.5" y1="522.8" x2="587.9000000000001" y2="521.8" stroke="#8a8a7a" stroke-width="0.6" />
<line x1="584.5" y1="524.8" x2="587.9000000000001" y2="523.8" stroke="#8a8a7a" stroke-width="0.6" />
<line x1="584.5" y1="526.8" x2="587.9000000000001" y2="525.8" stroke="#8a8a7a" stroke-width="0.6" />
<line x1="584.5" y1="528.8" x2="587.9000000000001" y2="527.8" stroke="#8a8a7a" stroke-width="0.6" />
<line x1="584.5" y1="530.8" x2="587.9000000000001" y2="529.8" stroke="#8a8a7a" stroke-width="0.6" />
<line x1="584.5" y1="532.8" x2="587.9000000000001" y2="531.8" stroke="#8a8a7a" stroke-width="0.6" />
<ellipse cx="586.2" cy="534.6" rx="4.6" ry="2.5" stroke="#1c1c24" stroke-width="1.0" fill="#fff" transform="rotate(0 586.2 534.6)"/>
<ellipse cx="586.2" cy="533.9" rx="2.8000000000000003" ry="1.2" stroke="#8a8a7a" stroke-width="0.6" fill="none" transform="rotate(0 586.2 533.9)"/>
<path d="M640.8,550.4 L640.8,538.9 Q643.0,535.4 645.2,538.9 L645.2,550.4" stroke="#1c1c24" stroke-width="1" fill="#fff"/>
<line x1="641.3" y1="541.9" x2="644.7" y2="540.9" stroke="#8a8a7a" stroke-width="0.6" />
<line x1="641.3" y1="543.9" x2="644.7" y2="542.9" stroke="#8a8a7a" stroke-width="0.6" />
<line x1="641.3" y1="545.9" x2="644.7" y2="544.9" stroke="#8a8a7a" stroke-width="0.6" />
<line x1="641.3" y1="547.9" x2="644.7" y2="546.9" stroke="#8a8a7a" stroke-width="0.6" />
<line x1="641.3" y1="549.9" x2="644.7" y2="548.9" stroke="#8a8a7a" stroke-width="0.6" />
<ellipse cx="643.0" cy="551.9" rx="4.6" ry="2.5" stroke="#1c1c24" stroke-width="1.0" fill="#fff" transform="rotate(0 643.0 551.9)"/>
<ellipse cx="643.0" cy="551.1999999999999" rx="2.8000000000000003" ry="1.2" stroke="#8a8a7a" stroke-width="0.6" fill="none" transform="rotate(0 643.0 551.1999999999999)"/>
<path d="M648.0999999999999,572.8 L648.0999999999999,559.4 Q650.3,555.9 652.5,559.4 L652.5,572.8" stroke="#1c1c24" stroke-width="1" fill="#fff"/>
<line x1="648.5999999999999" y1="562.4" x2="652.0" y2="561.4" stroke="#8a8a7a" stroke-width="0.6" />
<line x1="648.5999999999999" y1="564.4" x2="652.0" y2="563.4" stroke="#8a8a7a" stroke-width="0.6" />
<line x1="648.5999999999999" y1="566.4" x2="652.0" y2="565.4" stroke="#8a8a7a" stroke-width="0.6" />
<line x1="648.5999999999999" y1="568.4" x2="652.0" y2="567.4" stroke="#8a8a7a" stroke-width="0.6" />
<line x1="648.5999999999999" y1="570.4" x2="652.0" y2="569.4" stroke="#8a8a7a" stroke-width="0.6" />
<line x1="648.5999999999999" y1="572.4" x2="652.0" y2="571.4" stroke="#8a8a7a" stroke-width="0.6" />
<ellipse cx="650.3" cy="574.3" rx="4.6" ry="2.5" stroke="#1c1c24" stroke-width="1.0" fill="#fff" transform="rotate(0 650.3 574.3)"/>
<ellipse cx="650.3" cy="573.5999999999999" rx="2.8000000000000003" ry="1.2" stroke="#8a8a7a" stroke-width="0.6" fill="none" transform="rotate(0 650.3 573.5999999999999)"/>
<path d="M819.5,542.6 L819.5,529.8 Q821.7,526.3 823.9000000000001,529.8 L823.9000000000001,542.6" stroke="#1c1c24" stroke-width="1" fill="#fff"/>
<line x1="820.0" y1="532.8" x2="823.4000000000001" y2="531.8" stroke="#8a8a7a" stroke-width="0.6" />
<line x1="820.0" y1="534.8" x2="823.4000000000001" y2="533.8" stroke="#8a8a7a" stroke-width="0.6" />
<line x1="820.0" y1="536.8" x2="823.4000000000001" y2="535.8" stroke="#8a8a7a" stroke-width="0.6" />
<line x1="820.0" y1="538.8" x2="823.4000000000001" y2="537.8" stroke="#8a8a7a" stroke-width="0.6" />
<line x1="820.0" y1="540.8" x2="823.4000000000001" y2="539.8" stroke="#8a8a7a" stroke-width="0.6" />
<ellipse cx="821.7" cy="544.1" rx="4.6" ry="2.5" stroke="#1c1c24" stroke-width="1.0" fill="#fff" transform="rotate(0 821.7 544.1)"/>
<ellipse cx="821.7" cy="543.4" rx="2.8000000000000003" ry="1.2" stroke="#8a8a7a" stroke-width="0.6" fill="none" transform="rotate(0 821.7 543.4)"/>
<path d="M723.1999999999999,593.0 L723.1999999999999,581.0 Q725.4,577.5 727.6,581.0 L727.6,593.0" stroke="#1c1c24" stroke-width="1" fill="#fff"/>
<line x1="723.6999999999999" y1="584.0" x2="727.1" y2="583.0" stroke="#8a8a7a" stroke-width="0.6" />
<line x1="723.6999999999999" y1="586.0" x2="727.1" y2="585.0" stroke="#8a8a7a" stroke-width="0.6" />
<line x1="723.6999999999999" y1="588.0" x2="727.1" y2="587.0" stroke="#8a8a7a" stroke-width="0.6" />
<line x1="723.6999999999999" y1="590.0" x2="727.1" y2="589.0" stroke="#8a8a7a" stroke-width="0.6" />
<line x1="723.6999999999999" y1="592.0" x2="727.1" y2="591.0" stroke="#8a8a7a" stroke-width="0.6" />
<ellipse cx="725.4" cy="594.5" rx="4.6" ry="2.5" stroke="#1c1c24" stroke-width="1.0" fill="#fff" transform="rotate(0 725.4 594.5)"/>
<ellipse cx="725.4" cy="593.8" rx="2.8000000000000003" ry="1.2" stroke="#8a8a7a" stroke-width="0.6" fill="none" transform="rotate(0 725.4 593.8)"/>
<line x1="650.5" y1="534.5" x2="650.5" y2="557" stroke="#8a8a8a" stroke-width="0.7" />
<line x1="643.5" y1="528" x2="643.5" y2="536.5" stroke="#8a8a8a" stroke-width="0.7" />
<line x1="586.5" y1="508" x2="586.5" y2="517.5" stroke="#8a8a8a" stroke-width="0.7" />
<line x1="725.5" y1="567" x2="725.5" y2="578.5" stroke="#8a8a8a" stroke-width="0.7" />
<text transform="translate(747.2,619.5) scale(0.88,1)" text-anchor="middle" font-size="12.4" font-weight="bold">220</text>
<text transform="translate(747.2,632.8) scale(0.88,1)" text-anchor="middle" font-size="12.4" font-weight="bold">(6x)</text>
<path d="M747.5,607 L747.5,602 L730.3,593.6" stroke="#6a6a70" stroke-width="0.8" fill="none" />
<path d="M796.7,578.4 C798,577.8 799.5,577.8 801.1,577.8 L810,577.8 L893.4,539.8 C894,537 894.3,535.5 894.5,534.5 C895,532.5 895.8,531.2 896.8,530.6 C898,529.8 899.5,529.7 901.2,529.8 C903.5,530 905.5,530.3 906.8,531.1 C909,532.5 910.5,534 911.2,535.6 C912,538 912.3,540 912.3,542.2 L912.3,547.8 L912.9,553.4 C912.5,555 911.5,556 910.1,556.7 L852.3,584.5 L841.2,591.2 L818.9,599.5 C815,601 811.5,601.5 808.9,601.2 C806,601.2 804.3,600.8 803.3,600.1 C802,599 801.5,597.5 801.1,595.6 C799.5,593 798,591 797.2,589 C796.5,586 796.5,584 796.7,582.3 Z" stroke="#1c1c24" stroke-width="1.3" fill="#fff" />
<path d="M801.1,582.3 L820,582 L910.1,545.6" stroke="#8a8a7a" stroke-width="0.8" fill="none" />
<path d="M822.3,589 L911.2,546.7" stroke="#a8a890" stroke-width="0.7" fill="none" />
<path d="M812,590 L822.3,589 L822.3,598 M800,586 L806,588 L806,597" stroke="#a8a890" stroke-width="0.7" fill="none" />
<path d="M852,579 L902,556 M862,574 L863,560 M875,568 L876,554 M884,563 L884,553" stroke="#9a9a8a" stroke-width="0.7" fill="none" />
<path d="M850,572 C860,568 870,564 880,559" stroke="#8a8aa0" stroke-width="1.2" fill="none" />
<ellipse cx="845.6" cy="585.6" rx="5.3" ry="6.3" stroke="#1c1c24" stroke-width="1.1" fill="#fff" transform="rotate(-20 845.6 585.6)"/>
<ellipse cx="902" cy="540.5" rx="3.5" ry="2" stroke="#888" stroke-width="0.6" fill="none" transform="rotate(0 902 540.5)"/>
<ellipse cx="902" cy="552" rx="3" ry="1.6" stroke="#888" stroke-width="0.6" fill="none" transform="rotate(0 902 552)"/>
<text transform="translate(862.8,533.9) scale(0.88,1)" text-anchor="middle" font-size="12.4" font-weight="bold">204</text>
<line x1="862.5" y1="536.3" x2="862.5" y2="550.6" stroke="#6a6a70" stroke-width="0.8" />
<path d="M927.6,551.9799999999999 L927.6,560.2 L929.4,563.2 L931.1999999999999,560.2 L931.1999999999999,551.9799999999999" stroke="#1c1c24" stroke-width="1" fill="#e9e7d6"/>
<line x1="928.3" y1="555.1" x2="930.5" y2="554.2" stroke="#9a987c" stroke-width="0.7" />
<line x1="928.3" y1="557.0" x2="930.5" y2="556.1" stroke="#9a987c" stroke-width="0.7" />
<line x1="928.3" y1="558.9" x2="930.5" y2="558.0" stroke="#9a987c" stroke-width="0.7" />
<line x1="928.3" y1="560.8" x2="930.5" y2="559.9" stroke="#9a987c" stroke-width="0.7" />
<path d="M925.8,550.0999999999999 L925.8,551.8999999999999 A3.6,1.8 0 0 0 933.0,551.8999999999999 L933.0,550.0999999999999" stroke="#1c1c24" stroke-width="0.9" fill="#fff"/>
<ellipse cx="929.4" cy="550.0999999999999" rx="3.6" ry="1.8" stroke="#1c1c24" stroke-width="0.9" fill="#fff"/>
<path d="M927.8,549.4999999999999 L929.4,550.5999999999999 L931.0,549.4999999999999 M929.4,550.5999999999999 L929.4,548.6999999999999" stroke="#555" stroke-width="0.6" fill="none"/>
<text transform="translate(956.6,557) scale(0.88,1)" text-anchor="middle" font-size="12.4" font-weight="bold">30</text>
<text transform="translate(956.6,570.3) scale(0.88,1)" text-anchor="middle" font-size="12.4" font-weight="bold">(2x)</text>
<line x1="934.3" y1="551.5" x2="948.8" y2="551.5" stroke="#6a6a70" stroke-width="0.8" />
<path d="M899.4,591.5 L922,579 L925.5,579.5 L925.5,583.5 L902,596.2 C899.5,597 898,596 898,594.5 C898,593 898.5,592 899.4,591.5 Z" stroke="#1c1c24" stroke-width="1.0" fill="#fff" />
<ellipse cx="930.4" cy="582.2" rx="5.0" ry="3.2" stroke="#1c1c24" stroke-width="1.0" fill="#fff" transform="rotate(0 930.4 582.2)"/>
<ellipse cx="930.4" cy="581.8" rx="2.0" ry="1.2" stroke="#1c1c24" stroke-width="0.6" fill="none" transform="rotate(0 930.4 581.8)"/>
<path d="M925.5,583.5 L925.5,586 C927,587 933,587.5 935.4,585 L935.4,582.2" stroke="#1c1c24" stroke-width="0.9" fill="none" />
<path d="M906,590 L921,582 M905,592.5 L920,584.5" stroke="#777" stroke-width="0.7" fill="none" />
<text transform="translate(914.5,616.5) scale(0.88,1)" text-anchor="middle" font-size="12.4" font-weight="bold">207</text>
<line x1="914.5" y1="605.9" x2="914.5" y2="590.4" stroke="#6a6a70" stroke-width="0.8" />
<path d="M874.2,606.5 L894.5,595.5 L897,599.5 L876.5,610.8 Z" stroke="#1c1c24" stroke-width="1.0" fill="#fff" />
<line x1="874.7" y1="606.5" x2="876.3" y2="610.5" stroke="#444" stroke-width="0.7" />
<line x1="876.3666666666667" y1="605.5833333333334" x2="877.9666666666666" y2="609.5833333333334" stroke="#444" stroke-width="0.7" />
<line x1="878.0333333333334" y1="604.6666666666666" x2="879.6333333333333" y2="608.6666666666666" stroke="#444" stroke-width="0.7" />
<line x1="879.7" y1="603.75" x2="881.3" y2="607.75" stroke="#444" stroke-width="0.7" />
<line x1="881.3666666666667" y1="602.8333333333334" x2="882.9666666666666" y2="606.8333333333334" stroke="#444" stroke-width="0.7" />
<line x1="883.0333333333334" y1="601.9166666666666" x2="884.6333333333333" y2="605.9166666666666" stroke="#444" stroke-width="0.7" />
<line x1="884.7" y1="601.0" x2="886.3" y2="605.0" stroke="#444" stroke-width="0.7" />
<line x1="886.3666666666667" y1="600.0833333333334" x2="887.9666666666666" y2="604.0833333333334" stroke="#444" stroke-width="0.7" />
<line x1="888.0333333333334" y1="599.1666666666666" x2="889.6333333333333" y2="603.1666666666666" stroke="#444" stroke-width="0.7" />
<line x1="889.7" y1="598.25" x2="891.3" y2="602.25" stroke="#444" stroke-width="0.7" />
<line x1="891.3666666666667" y1="597.3333333333334" x2="892.9666666666666" y2="601.3333333333334" stroke="#444" stroke-width="0.7" />
<line x1="893.0333333333334" y1="596.4166666666666" x2="894.6333333333333" y2="600.4166666666666" stroke="#444" stroke-width="0.7" />
<line x1="894.7" y1="595.5" x2="896.3" y2="599.5" stroke="#444" stroke-width="0.7" />
<text transform="translate(887.8,633.6) scale(0.88,1)" text-anchor="middle" font-size="12.4" font-weight="bold">206</text>
<line x1="887.5" y1="623.3" x2="887.5" y2="608.8" stroke="#6a6a70" stroke-width="0.8" />
<path d="M828.7,620.5 C828.5,618.5 830,617 833,617.2 L846,620.5 L846,625.5 L851,622.5 L858.7,626 L858.7,632 L840.5,637.5 C839,637 838.4,636 838.4,634 L838.4,628 L830,625 C829,624.3 828.7,623 828.7,620.5 Z" stroke="#1c1c24" stroke-width="1.0" fill="#fff" />
<path d="M828.7,620.5 L838.4,623.5 L846,620.5 M838.4,623.5 L838.4,628 M846,625.5 L846,630 L858.7,626" stroke="#1c1c24" stroke-width="0.8" fill="none" />
<path d="M854.9,619.4 L869.5,611 C871.5,610.5 872.5,612 871.3,613.5 L856.5,622.5" stroke="#1c1c24" stroke-width="0.9" fill="#fff" />
<path d="M857,619.5 L866,614.5 M858,621 L867,616" stroke="#777" stroke-width="0.6" fill="none" />
<path d="M851.1,596.5799999999999 L851.1,604.8 L852.9,607.8 L854.6999999999999,604.8 L854.6999999999999,596.5799999999999" stroke="#1c1c24" stroke-width="1" fill="#e9e7d6"/>
<line x1="851.8" y1="599.7" x2="854.0" y2="598.8" stroke="#9a987c" stroke-width="0.7" />
<line x1="851.8" y1="601.6" x2="854.0" y2="600.7" stroke="#9a987c" stroke-width="0.7" />
<line x1="851.8" y1="603.5" x2="854.0" y2="602.6" stroke="#9a987c" stroke-width="0.7" />
<line x1="851.8" y1="605.4" x2="854.0" y2="604.5" stroke="#9a987c" stroke-width="0.7" />
<path d="M849.3,594.6999999999999 L849.3,596.4999999999999 A3.6,1.8 0 0 0 856.5,596.4999999999999 L856.5,594.6999999999999" stroke="#1c1c24" stroke-width="0.9" fill="#fff"/>
<ellipse cx="852.9" cy="594.6999999999999" rx="3.6" ry="1.8" stroke="#1c1c24" stroke-width="0.9" fill="#fff"/>
<path d="M851.3,594.0999999999999 L852.9,595.1999999999999 L854.5,594.0999999999999 M852.9,595.1999999999999 L852.9,593.3" stroke="#555" stroke-width="0.6" fill="none"/>
<text transform="translate(833,653.9) scale(0.88,1)" text-anchor="middle" font-size="12.4" font-weight="bold">195</text>
<line x1="832.5" y1="644.6" x2="832.5" y2="628.1" stroke="#6a6a70" stroke-width="0.8" />
<path d="M852.9,610 L852.9,664 L860,666 L860,673" stroke="#55555c" stroke-width="0.7" fill="none" stroke-dasharray="8 2 1.5 2"/>
<path d="M929.4,566 L929.4,576 M930.4,588 L930.4,625.2 L913,640.7" stroke="#55555c" stroke-width="0.7" fill="none" stroke-dasharray="8 2 1.5 2"/>
<path d="M840.6,680.5 L922.5,633 C924,632.6 925,632.8 925.3,633.5 L935.2,640.1 L923,650.4 C922.5,653 921.5,656 917.8,662.2 C913,662.5 909,662.3 906.5,661.7 L904.6,660.8 L878.3,676.3 C873,681 868,687 863.2,691.8 L857.6,690 Z" stroke="#1c1c24" stroke-width="1.2" fill="#fff" />
<path d="M845,681 L925,635.5 L932,640 M858.5,687.1 L933.8,642.4" stroke="#1c1c24" stroke-width="0.9" fill="none" />
<path d="M904.6,660.8 L923,650.4" stroke="#1c1c24" stroke-width="0.8" fill="none" />
<path d="M852,680 L922,640 M856,682.5 L927,642" stroke="#8a8a8a" stroke-width="0.7" fill="none" />
<line x1="863.2" y1="667.3" x2="864.1" y2="669.0999999999999" stroke="#6a6a7a" stroke-width="0.6" />
<line x1="865.0840000000001" y1="666.212" x2="865.984" y2="668.012" stroke="#6a6a7a" stroke-width="0.6" />
<line x1="866.9680000000001" y1="665.1239999999999" x2="867.868" y2="666.9239999999999" stroke="#6a6a7a" stroke-width="0.6" />
<line x1="868.8520000000001" y1="664.036" x2="869.7520000000001" y2="665.8359999999999" stroke="#6a6a7a" stroke-width="0.6" />
<line x1="870.736" y1="662.948" x2="871.636" y2="664.7479999999999" stroke="#6a6a7a" stroke-width="0.6" />
<line x1="872.62" y1="661.86" x2="873.52" y2="663.66" stroke="#6a6a7a" stroke-width="0.6" />
<line x1="874.504" y1="660.7719999999999" x2="875.404" y2="662.5719999999999" stroke="#6a6a7a" stroke-width="0.6" />
<line x1="876.388" y1="659.684" x2="877.288" y2="661.4839999999999" stroke="#6a6a7a" stroke-width="0.6" />
<line x1="878.272" y1="658.596" x2="879.172" y2="660.396" stroke="#6a6a7a" stroke-width="0.6" />
<line x1="880.1560000000001" y1="657.5079999999999" x2="881.056" y2="659.3079999999999" stroke="#6a6a7a" stroke-width="0.6" />
<line x1="882.04" y1="656.42" x2="882.9399999999999" y2="658.2199999999999" stroke="#6a6a7a" stroke-width="0.6" />
<line x1="883.924" y1="655.332" x2="884.824" y2="657.132" stroke="#6a6a7a" stroke-width="0.6" />
<line x1="885.808" y1="654.244" x2="886.708" y2="656.044" stroke="#6a6a7a" stroke-width="0.6" />
<line x1="887.692" y1="653.156" x2="888.592" y2="654.9559999999999" stroke="#6a6a7a" stroke-width="0.6" />
<line x1="889.576" y1="652.068" x2="890.476" y2="653.8679999999999" stroke="#6a6a7a" stroke-width="0.6" />
<line x1="891.46" y1="650.98" x2="892.36" y2="652.78" stroke="#6a6a7a" stroke-width="0.6" />
<line x1="893.3439999999999" y1="649.892" x2="894.2439999999999" y2="651.692" stroke="#6a6a7a" stroke-width="0.6" />
<line x1="895.228" y1="648.804" x2="896.1279999999999" y2="650.6039999999999" stroke="#6a6a7a" stroke-width="0.6" />
<line x1="897.112" y1="647.716" x2="898.012" y2="649.516" stroke="#6a6a7a" stroke-width="0.6" />
<line x1="898.996" y1="646.628" x2="899.896" y2="648.428" stroke="#6a6a7a" stroke-width="0.6" />
<line x1="900.88" y1="645.54" x2="901.78" y2="647.3399999999999" stroke="#6a6a7a" stroke-width="0.6" />
<line x1="902.764" y1="644.452" x2="903.664" y2="646.252" stroke="#6a6a7a" stroke-width="0.6" />
<line x1="904.6479999999999" y1="643.364" x2="905.5479999999999" y2="645.164" stroke="#6a6a7a" stroke-width="0.6" />
<line x1="906.5319999999999" y1="642.2760000000001" x2="907.4319999999999" y2="644.076" stroke="#6a6a7a" stroke-width="0.6" />
<line x1="908.4159999999999" y1="641.188" x2="909.3159999999999" y2="642.9879999999999" stroke="#6a6a7a" stroke-width="0.6" />
<line x1="910.3" y1="640.1" x2="911.1999999999999" y2="641.9" stroke="#6a6a7a" stroke-width="0.6" />
<path d="M863.2,667.3 L910.3,640.1 M866,672 L913,645" stroke="#777" stroke-width="0.7" fill="none" />
<path d="M856.8,673.9 L856.8,676.4 A5,3.3 0 0 0 866.8,676.4 L866.8,673.9" stroke="#777" stroke-width="0.8" fill="#fff" />
<ellipse cx="861.8" cy="673.9" rx="5" ry="3.3" stroke="#777" stroke-width="0.8" fill="#fff" transform="rotate(0 861.8 673.9)"/>
<ellipse cx="861.8" cy="673.4" rx="2.4" ry="1.5" stroke="#555" stroke-width="0.7" fill="none" transform="rotate(0 861.8 673.4)"/>
<path d="M909,643.8 L909,646.3 A5,3.3 0 0 0 919,646.3 L919,643.8" stroke="#777" stroke-width="0.8" fill="#fff" />
<ellipse cx="914" cy="643.8" rx="5" ry="3.3" stroke="#777" stroke-width="0.8" fill="#fff" transform="rotate(0 914 643.8)"/>
<ellipse cx="914" cy="643.3" rx="2.4" ry="1.5" stroke="#555" stroke-width="0.7" fill="none" transform="rotate(0 914 643.3)"/>
<text transform="translate(895.2,694.6) scale(0.88,1)" text-anchor="middle" font-size="12.4" font-weight="bold">197</text>
<line x1="895.5" y1="685.3" x2="895.5" y2="669.8" stroke="#6a6a70" stroke-width="0.8" />
<line x1="613.5" y1="96" x2="613.5" y2="620" stroke="#5c5c66" stroke-width="0.75" stroke-dasharray="8 2 1.5 2"/>
<line x1="557.5" y1="198.5" x2="557.5" y2="246.5" stroke="#5c5c66" stroke-width="0.75" stroke-dasharray="8 2 1.5 2"/>
<line x1="580.5" y1="185.5" x2="580.5" y2="233" stroke="#5c5c66" stroke-width="0.75" stroke-dasharray="8 2 1.5 2"/>
<line x1="632.5" y1="212" x2="632.5" y2="262" stroke="#5c5c66" stroke-width="0.75" stroke-dasharray="8 2 1.5 2"/>
<line x1="549.5" y1="406" x2="549.5" y2="455" stroke="#5c5c66" stroke-width="0.75" stroke-dasharray="8 2 1.5 2"/>
<line x1="556.5" y1="488" x2="556.5" y2="589" stroke="#5c5c66" stroke-width="0.75" stroke-dasharray="8 2 1.5 2"/>
<line x1="564.5" y1="381" x2="564.5" y2="445" stroke="#8a8a90" stroke-width="0.7" />
<line x1="593.5" y1="359" x2="593.5" y2="366" stroke="#8a8a90" stroke-width="0.7" />
<line x1="593.5" y1="387" x2="593.5" y2="481" stroke="#8a8a90" stroke-width="0.7" />
<line x1="647.5" y1="409" x2="647.5" y2="436" stroke="#8a8a90" stroke-width="0.7" />
<line x1="740.5" y1="470" x2="740.5" y2="485.5" stroke="#5c5c66" stroke-width="0.75" stroke-dasharray="8 2 1.5 2"/>
<line x1="821.5" y1="318" x2="821.5" y2="486" stroke="#5c5c66" stroke-width="0.75" stroke-dasharray="8 2 1.5 2"/>
<line x1="821.5" y1="500" x2="821.5" y2="527.5" stroke="#5c5c66" stroke-width="0.75" stroke-dasharray="8 2 1.5 2"/>
<line x1="725.5" y1="552" x2="725.5" y2="578.5" stroke="#8a8a90" stroke-width="0.7" />
<line x1="586.5" y1="496" x2="586.5" y2="517.5" stroke="#8a8a90" stroke-width="0.7" />
<line x1="643.5" y1="520" x2="643.5" y2="536.5" stroke="#8a8a90" stroke-width="0.7" />
<text x="53.3" y="58.5" font-size="10.8" style="font-weight:normal">3 601 M53 000</text>
<text x="54.8" y="73.3" font-size="10.1" style="font-weight:normal">Issue</text>
<text x="53.3" y="84.7" font-size="10.1" style="font-weight:normal">Stand</text>
<path d="M83.5,65.5 C86,65.5 86,67 86,70 L86,73 C86,74.5 87,75 88,75.3 C87,75.6 86,76 86,78 L86,82 C86,85 85.5,86 83.5,86" stroke="#1c1c24" stroke-width="0.9" fill="none"/>
<text x="89.4" y="79" font-size="10.7" style="font-weight:normal">23-01-10</text>
<rect x="139.6" y="65.1" width="91.2" height="20.8" fill="#0c0c0c" stroke="none"/>
<text x="143.5" y="81" font-size="16.8" font-weight="bold" style="fill:#fff" textLength="82.5" lengthAdjust="spacingAndGlyphs">Fig./Abb. 2</text>
<text x="1031" y="770.1" font-size="10.5" style="font-weight:normal">Modifications reserved</text>
<text x="1031" y="781.6" font-size="10.5" style="font-weight:normal">Änderungen vorbehalten</text>
<text x="1031" y="793.3" font-size="10.5" style="font-weight:normal">Modifications resérvées</text>
<text x="1031" y="805.4" font-size="10.5" style="font-weight:normal">Salvo modificaciones</text>
</svg>
</body></html>
